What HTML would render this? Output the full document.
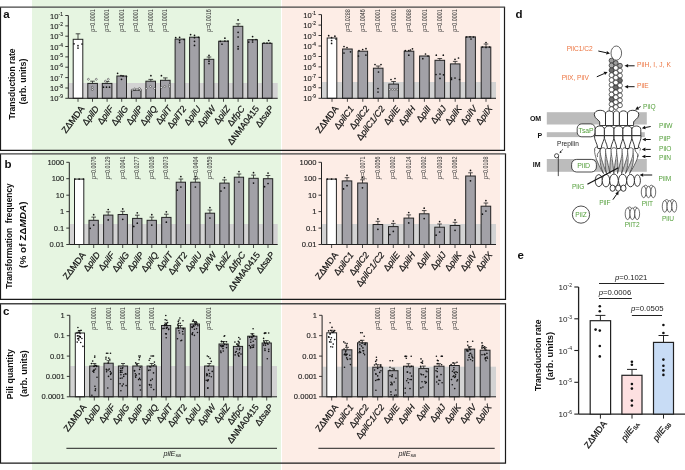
<!DOCTYPE html>
<html><head><meta charset="utf-8"><style>
html,body{margin:0;padding:0;background:#fff;}
svg{display:block;font-family:"Liberation Sans", sans-serif;will-change:transform;}
</style></head><body>
<svg width="685" height="470" viewBox="0 0 685 470">
<rect x="32" y="0" width="249" height="470" fill="#e6f5e1"/>
<rect x="282" y="0" width="218" height="470" fill="#fdede6"/>
<rect x="68.8" y="83" width="208.89999999999998" height="15.299999999999997" fill="#d3d3d3"/>
<rect x="322" y="82" width="174" height="16.299999999999997" fill="#d3d3d3"/>
<rect x="73.2" y="39.3" width="9.6" height="59.0" fill="white" stroke="#222" stroke-width="1"/>
<path d="M78.0 39.3V33.8M75.7 33.8H80.3" stroke="#222" stroke-width="0.8" fill="none"/>
<circle cx="74" cy="43.8" r="0.85" fill="#111"/>
<circle cx="78" cy="45.7" r="0.85" fill="#111"/>
<circle cx="78" cy="48.1" r="0.85" fill="#111"/>
<circle cx="82" cy="44" r="0.85" fill="#111"/>
<line x1="78.0" y1="98.3" x2="78.0" y2="101.8" stroke="#222" stroke-width="0.8"/>
<text x="85.0" y="108.7" text-anchor="end" transform="rotate(-53 85.0 108.7)" font-size="9.0" fill="#111" stroke="#111" stroke-width="0.2"><tspan>ZΔMDA</tspan></text>
<rect x="87.8" y="83.4" width="9.6" height="14.9" fill="#a2a1a7" stroke="#222" stroke-width="1"/>
<path d="M92.5 83.4V81.2M90.2 81.2H94.8" stroke="#222" stroke-width="0.8" fill="none"/>
<circle cx="88.4" cy="79.3" r="0.95" fill="white" stroke="#222" stroke-width="0.5"/>
<circle cx="96.3" cy="79.3" r="0.95" fill="white" stroke="#222" stroke-width="0.5"/>
<circle cx="92.3" cy="87.2" r="0.95" fill="white" stroke="#222" stroke-width="0.5"/>
<circle cx="92.3" cy="89.6" r="0.95" fill="white" stroke="#222" stroke-width="0.5"/>
<line x1="92.5" y1="98.3" x2="92.5" y2="101.8" stroke="#222" stroke-width="0.8"/>
<text x="99.5" y="108.7" text-anchor="end" transform="rotate(-53 99.5 108.7)" font-size="9.0" fill="#111" stroke="#111" stroke-width="0.2"><tspan>Δ</tspan><tspan font-style="italic">pilD</tspan></text>
<text x="94.8" y="31.8" transform="rotate(-90 94.8 31.8)" font-size="6.4" fill="#3a3a3a" textLength="22.6" lengthAdjust="spacingAndGlyphs"><tspan font-style="italic">p</tspan>=0.0001</text>
<rect x="102.3" y="83.4" width="9.6" height="14.9" fill="#a2a1a7" stroke="#222" stroke-width="1"/>
<path d="M107.1 83.4V81.5M104.8 81.5H109.4" stroke="#222" stroke-width="0.8" fill="none"/>
<circle cx="105.4" cy="81.2" r="0.95" fill="white" stroke="#222" stroke-width="0.5"/>
<circle cx="108.3" cy="79.3" r="0.95" fill="white" stroke="#222" stroke-width="0.5"/>
<circle cx="103.5" cy="87.2" r="0.85" fill="#111"/>
<circle cx="106.5" cy="87.2" r="0.85" fill="#111"/>
<circle cx="109.5" cy="87.2" r="0.85" fill="#111"/>
<line x1="107.1" y1="98.3" x2="107.1" y2="101.8" stroke="#222" stroke-width="0.8"/>
<text x="114.1" y="108.7" text-anchor="end" transform="rotate(-53 114.1 108.7)" font-size="9.0" fill="#111" stroke="#111" stroke-width="0.2"><tspan>Δ</tspan><tspan font-style="italic">pilF</tspan></text>
<text x="109.3" y="31.8" transform="rotate(-90 109.3 31.8)" font-size="6.4" fill="#3a3a3a" textLength="22.6" lengthAdjust="spacingAndGlyphs"><tspan font-style="italic">p</tspan>=0.0001</text>
<rect x="116.9" y="76.0" width="9.6" height="22.3" fill="#a2a1a7" stroke="#222" stroke-width="1"/>
<circle cx="117.6" cy="73.3" r="0.85" fill="#111"/>
<circle cx="121" cy="75.5" r="0.85" fill="#111"/>
<circle cx="123" cy="75.9" r="0.85" fill="#111"/>
<circle cx="126.5" cy="76.5" r="0.85" fill="#111"/>
<circle cx="121.5" cy="79.3" r="0.85" fill="#111"/>
<line x1="121.7" y1="98.3" x2="121.7" y2="101.8" stroke="#222" stroke-width="0.8"/>
<text x="128.7" y="108.7" text-anchor="end" transform="rotate(-53 128.7 108.7)" font-size="9.0" fill="#111" stroke="#111" stroke-width="0.2"><tspan>Δ</tspan><tspan font-style="italic">pilG</tspan></text>
<text x="123.9" y="31.8" transform="rotate(-90 123.9 31.8)" font-size="6.4" fill="#3a3a3a" textLength="22.6" lengthAdjust="spacingAndGlyphs"><tspan font-style="italic">p</tspan>=0.0001</text>
<rect x="131.4" y="90.2" width="9.6" height="8.1" fill="#a2a1a7" stroke="#222" stroke-width="1"/>
<circle cx="132.2" cy="90" r="0.95" fill="white" stroke="#222" stroke-width="0.5"/>
<circle cx="134.6" cy="89" r="0.95" fill="white" stroke="#222" stroke-width="0.5"/>
<circle cx="137" cy="89.5" r="0.95" fill="white" stroke="#222" stroke-width="0.5"/>
<circle cx="139.4" cy="88.5" r="0.95" fill="white" stroke="#222" stroke-width="0.5"/>
<circle cx="140.6" cy="90" r="0.95" fill="white" stroke="#222" stroke-width="0.5"/>
<line x1="136.2" y1="98.3" x2="136.2" y2="101.8" stroke="#222" stroke-width="0.8"/>
<text x="143.2" y="108.7" text-anchor="end" transform="rotate(-53 143.2 108.7)" font-size="9.0" fill="#111" stroke="#111" stroke-width="0.2"><tspan>Δ</tspan><tspan font-style="italic">pilP</tspan></text>
<text x="138.4" y="31.8" transform="rotate(-90 138.4 31.8)" font-size="6.4" fill="#3a3a3a" textLength="22.6" lengthAdjust="spacingAndGlyphs"><tspan font-style="italic">p</tspan>=0.0001</text>
<rect x="145.9" y="81.2" width="9.6" height="17.1" fill="#a2a1a7" stroke="#222" stroke-width="1"/>
<path d="M150.8 81.2V79.4M148.4 79.4H153.1" stroke="#222" stroke-width="0.8" fill="none"/>
<circle cx="150.9" cy="75.7" r="0.85" fill="#111"/>
<circle cx="146.3" cy="88.5" r="0.95" fill="white" stroke="#222" stroke-width="0.5"/>
<circle cx="154.6" cy="88.5" r="0.95" fill="white" stroke="#222" stroke-width="0.5"/>
<circle cx="150.5" cy="86.5" r="0.95" fill="white" stroke="#222" stroke-width="0.5"/>
<line x1="150.8" y1="98.3" x2="150.8" y2="101.8" stroke="#222" stroke-width="0.8"/>
<text x="157.8" y="108.7" text-anchor="end" transform="rotate(-53 157.8 108.7)" font-size="9.0" fill="#111" stroke="#111" stroke-width="0.2"><tspan>Δ</tspan><tspan font-style="italic">pilQ</tspan></text>
<text x="152.9" y="31.8" transform="rotate(-90 152.9 31.8)" font-size="6.4" fill="#3a3a3a" textLength="22.6" lengthAdjust="spacingAndGlyphs"><tspan font-style="italic">p</tspan>=0.0001</text>
<rect x="160.5" y="80.3" width="9.6" height="18.0" fill="#a2a1a7" stroke="#222" stroke-width="1"/>
<path d="M165.3 80.3V77.9M163.0 77.9H167.6" stroke="#222" stroke-width="0.8" fill="none"/>
<circle cx="161.4" cy="75.7" r="0.85" fill="#111"/>
<circle cx="161.4" cy="87.5" r="0.95" fill="white" stroke="#222" stroke-width="0.5"/>
<circle cx="169.5" cy="85" r="0.95" fill="white" stroke="#222" stroke-width="0.5"/>
<circle cx="169.5" cy="86.8" r="0.95" fill="white" stroke="#222" stroke-width="0.5"/>
<circle cx="164.8" cy="86.5" r="0.95" fill="white" stroke="#222" stroke-width="0.5"/>
<line x1="165.3" y1="98.3" x2="165.3" y2="101.8" stroke="#222" stroke-width="0.8"/>
<text x="172.3" y="108.7" text-anchor="end" transform="rotate(-53 172.3 108.7)" font-size="9.0" fill="#111" stroke="#111" stroke-width="0.2"><tspan>Δ</tspan><tspan font-style="italic">pilT</tspan></text>
<text x="167.5" y="31.8" transform="rotate(-90 167.5 31.8)" font-size="6.4" fill="#3a3a3a" textLength="22.6" lengthAdjust="spacingAndGlyphs"><tspan font-style="italic">p</tspan>=0.0001</text>
<rect x="175.1" y="39.1" width="9.6" height="59.2" fill="#a2a1a7" stroke="#222" stroke-width="1"/>
<circle cx="175.7" cy="37.7" r="0.85" fill="#111"/>
<circle cx="179.6" cy="37.3" r="0.85" fill="#111"/>
<circle cx="179.6" cy="40.6" r="0.85" fill="#111"/>
<circle cx="179.6" cy="42.5" r="0.85" fill="#111"/>
<circle cx="184" cy="39.5" r="0.85" fill="#111"/>
<line x1="179.9" y1="98.3" x2="179.9" y2="101.8" stroke="#222" stroke-width="0.8"/>
<text x="186.9" y="108.7" text-anchor="end" transform="rotate(-53 186.9 108.7)" font-size="9.0" fill="#111" stroke="#111" stroke-width="0.2"><tspan>Δ</tspan><tspan font-style="italic">pilT2</tspan></text>
<rect x="189.6" y="37.2" width="9.6" height="61.1" fill="#a2a1a7" stroke="#222" stroke-width="1"/>
<circle cx="190.6" cy="34.6" r="0.85" fill="#111"/>
<circle cx="194.5" cy="35.3" r="0.85" fill="#111"/>
<circle cx="194.5" cy="37.7" r="0.85" fill="#111"/>
<circle cx="194.5" cy="41.3" r="0.85" fill="#111"/>
<circle cx="194.5" cy="45.4" r="0.85" fill="#111"/>
<circle cx="198.5" cy="37.3" r="0.85" fill="#111"/>
<line x1="194.4" y1="98.3" x2="194.4" y2="101.8" stroke="#222" stroke-width="0.8"/>
<text x="201.4" y="108.7" text-anchor="end" transform="rotate(-53 201.4 108.7)" font-size="9.0" fill="#111" stroke="#111" stroke-width="0.2"><tspan>Δ</tspan><tspan font-style="italic">pilU</tspan></text>
<rect x="204.2" y="59.3" width="9.6" height="39.0" fill="#a2a1a7" stroke="#222" stroke-width="1"/>
<path d="M209.0 59.3V57.0M206.7 57.0H211.3" stroke="#222" stroke-width="0.8" fill="none"/>
<circle cx="209" cy="55.4" r="0.85" fill="#111"/>
<circle cx="209" cy="61.2" r="0.85" fill="#111"/>
<circle cx="209" cy="63.6" r="0.85" fill="#111"/>
<line x1="209.0" y1="98.3" x2="209.0" y2="101.8" stroke="#222" stroke-width="0.8"/>
<text x="216.0" y="108.7" text-anchor="end" transform="rotate(-53 216.0 108.7)" font-size="9.0" fill="#111" stroke="#111" stroke-width="0.2"><tspan>Δ</tspan><tspan font-style="italic">pilW</tspan></text>
<text x="211.2" y="31.8" transform="rotate(-90 211.2 31.8)" font-size="6.4" fill="#3a3a3a" textLength="22.6" lengthAdjust="spacingAndGlyphs"><tspan font-style="italic">p</tspan>=0.0016</text>
<rect x="218.7" y="41.2" width="9.6" height="57.1" fill="#a2a1a7" stroke="#222" stroke-width="1"/>
<circle cx="220.3" cy="41.3" r="0.85" fill="#111"/>
<circle cx="224.9" cy="38.2" r="0.85" fill="#111"/>
<circle cx="224.9" cy="41" r="0.85" fill="#111"/>
<circle cx="228" cy="41" r="0.85" fill="#111"/>
<circle cx="222" cy="44.2" r="0.85" fill="#111"/>
<line x1="223.5" y1="98.3" x2="223.5" y2="101.8" stroke="#222" stroke-width="0.8"/>
<text x="230.5" y="108.7" text-anchor="end" transform="rotate(-53 230.5 108.7)" font-size="9.0" fill="#111" stroke="#111" stroke-width="0.2"><tspan>Δ</tspan><tspan font-style="italic">pilZ</tspan></text>
<rect x="233.2" y="26.3" width="9.6" height="72.0" fill="#a2a1a7" stroke="#222" stroke-width="1"/>
<path d="M238.1 26.3V23.8M235.8 23.8H240.4" stroke="#222" stroke-width="0.8" fill="none"/>
<circle cx="238.1" cy="19.9" r="0.85" fill="#111"/>
<circle cx="238.1" cy="32.3" r="0.85" fill="#111"/>
<circle cx="238.1" cy="37" r="0.85" fill="#111"/>
<circle cx="238.1" cy="46.6" r="0.85" fill="#111"/>
<circle cx="238.1" cy="48.9" r="0.85" fill="#111"/>
<line x1="238.1" y1="98.3" x2="238.1" y2="101.8" stroke="#222" stroke-width="0.8"/>
<text x="245.1" y="108.7" text-anchor="end" transform="rotate(-53 245.1 108.7)" font-size="9.0" fill="#111" stroke="#111" stroke-width="0.2"><tspan>Δ</tspan><tspan font-style="italic">tfpC</tspan></text>
<rect x="247.8" y="39.7" width="9.6" height="58.6" fill="#a2a1a7" stroke="#222" stroke-width="1"/>
<circle cx="252.6" cy="36.6" r="0.85" fill="#111"/>
<circle cx="248.8" cy="42.1" r="0.85" fill="#111"/>
<circle cx="252.6" cy="42" r="0.85" fill="#111"/>
<circle cx="256" cy="39.5" r="0.85" fill="#111"/>
<circle cx="252.6" cy="40" r="0.85" fill="#111"/>
<line x1="252.6" y1="98.3" x2="252.6" y2="101.8" stroke="#222" stroke-width="0.8"/>
<text x="259.6" y="108.7" text-anchor="end" transform="rotate(-53 259.6 108.7)" font-size="9.0" fill="#111" stroke="#111" stroke-width="0.2"><tspan>Δ</tspan><tspan>NMA0415</tspan></text>
<rect x="262.4" y="43.3" width="9.6" height="55.0" fill="#a2a1a7" stroke="#222" stroke-width="1"/>
<circle cx="268.7" cy="40.5" r="0.85" fill="#111"/>
<circle cx="264" cy="43" r="0.85" fill="#111"/>
<circle cx="267" cy="43" r="0.85" fill="#111"/>
<circle cx="270" cy="43" r="0.85" fill="#111"/>
<line x1="267.2" y1="98.3" x2="267.2" y2="101.8" stroke="#222" stroke-width="0.8"/>
<text x="274.2" y="108.7" text-anchor="end" transform="rotate(-53 274.2 108.7)" font-size="9.0" fill="#111" stroke="#111" stroke-width="0.2"><tspan>Δ</tspan><tspan font-style="italic">tsaP</tspan></text>
<line x1="68.3" y1="98.3" x2="277.7" y2="98.3" stroke="#222" stroke-width="1"/>
<line x1="68.3" y1="15.5" x2="68.3" y2="98.3" stroke="#222" stroke-width="1"/>
<line x1="65.3" y1="15.5" x2="68.3" y2="15.5" stroke="#222" stroke-width="0.9"/>
<text x="62.9" y="18.6" text-anchor="end" font-size="7.6" fill="#1a1a1a" stroke="#1a1a1a" stroke-width="0.12">10<tspan font-size="4.9" dy="-3.0">-1</tspan></text>
<line x1="65.3" y1="25.9" x2="68.3" y2="25.9" stroke="#222" stroke-width="0.9"/>
<text x="62.9" y="29.0" text-anchor="end" font-size="7.6" fill="#1a1a1a" stroke="#1a1a1a" stroke-width="0.12">10<tspan font-size="4.9" dy="-3.0">-2</tspan></text>
<line x1="65.3" y1="36.2" x2="68.3" y2="36.2" stroke="#222" stroke-width="0.9"/>
<text x="62.9" y="39.3" text-anchor="end" font-size="7.6" fill="#1a1a1a" stroke="#1a1a1a" stroke-width="0.12">10<tspan font-size="4.9" dy="-3.0">-3</tspan></text>
<line x1="65.3" y1="46.5" x2="68.3" y2="46.5" stroke="#222" stroke-width="0.9"/>
<text x="62.9" y="49.6" text-anchor="end" font-size="7.6" fill="#1a1a1a" stroke="#1a1a1a" stroke-width="0.12">10<tspan font-size="4.9" dy="-3.0">-4</tspan></text>
<line x1="65.3" y1="56.9" x2="68.3" y2="56.9" stroke="#222" stroke-width="0.9"/>
<text x="62.9" y="60.0" text-anchor="end" font-size="7.6" fill="#1a1a1a" stroke="#1a1a1a" stroke-width="0.12">10<tspan font-size="4.9" dy="-3.0">-5</tspan></text>
<line x1="65.3" y1="67.2" x2="68.3" y2="67.2" stroke="#222" stroke-width="0.9"/>
<text x="62.9" y="70.3" text-anchor="end" font-size="7.6" fill="#1a1a1a" stroke="#1a1a1a" stroke-width="0.12">10<tspan font-size="4.9" dy="-3.0">-6</tspan></text>
<line x1="65.3" y1="77.6" x2="68.3" y2="77.6" stroke="#222" stroke-width="0.9"/>
<text x="62.9" y="80.7" text-anchor="end" font-size="7.6" fill="#1a1a1a" stroke="#1a1a1a" stroke-width="0.12">10<tspan font-size="4.9" dy="-3.0">-7</tspan></text>
<line x1="65.3" y1="88.0" x2="68.3" y2="88.0" stroke="#222" stroke-width="0.9"/>
<text x="62.9" y="91.0" text-anchor="end" font-size="7.6" fill="#1a1a1a" stroke="#1a1a1a" stroke-width="0.12">10<tspan font-size="4.9" dy="-3.0">-8</tspan></text>
<line x1="65.3" y1="98.3" x2="68.3" y2="98.3" stroke="#222" stroke-width="0.9"/>
<text x="62.9" y="101.4" text-anchor="end" font-size="7.6" fill="#1a1a1a" stroke="#1a1a1a" stroke-width="0.12">10<tspan font-size="4.9" dy="-3.0">-9</tspan></text>
<rect x="327.2" y="38.0" width="9.6" height="60.3" fill="white" stroke="#222" stroke-width="1"/>
<circle cx="328.7" cy="35.7" r="0.85" fill="#111"/>
<circle cx="331.6" cy="37.7" r="0.85" fill="#111"/>
<circle cx="331.6" cy="40.5" r="0.85" fill="#111"/>
<circle cx="331.6" cy="43.4" r="0.85" fill="#111"/>
<circle cx="334.9" cy="36.2" r="0.85" fill="#111"/>
<circle cx="336" cy="39" r="0.85" fill="#111"/>
<line x1="332.0" y1="98.3" x2="332.0" y2="101.8" stroke="#222" stroke-width="0.8"/>
<text x="339.0" y="108.7" text-anchor="end" transform="rotate(-53 339.0 108.7)" font-size="9.0" fill="#111" stroke="#111" stroke-width="0.2"><tspan>ZΔMDA</tspan></text>
<rect x="342.6" y="49.0" width="9.6" height="49.3" fill="#a2a1a7" stroke="#222" stroke-width="1"/>
<circle cx="344" cy="46.5" r="0.85" fill="#111"/>
<circle cx="347" cy="47.5" r="0.85" fill="#111"/>
<circle cx="344" cy="53" r="0.85" fill="#111"/>
<circle cx="350.5" cy="51.8" r="0.85" fill="#111"/>
<line x1="347.4" y1="98.3" x2="347.4" y2="101.8" stroke="#222" stroke-width="0.8"/>
<text x="354.4" y="108.7" text-anchor="end" transform="rotate(-53 354.4 108.7)" font-size="9.0" fill="#111" stroke="#111" stroke-width="0.2"><tspan>Δ</tspan><tspan font-style="italic">pilC1</tspan></text>
<text x="349.6" y="31.8" transform="rotate(-90 349.6 31.8)" font-size="6.4" fill="#3a3a3a" textLength="22.6" lengthAdjust="spacingAndGlyphs"><tspan font-style="italic">p</tspan>=0.0288</text>
<rect x="358.0" y="51.2" width="9.6" height="47.1" fill="#a2a1a7" stroke="#222" stroke-width="1"/>
<circle cx="359" cy="50.6" r="0.85" fill="#111"/>
<circle cx="362.7" cy="49.5" r="0.85" fill="#111"/>
<circle cx="366" cy="48.7" r="0.85" fill="#111"/>
<circle cx="358.5" cy="56" r="0.85" fill="#111"/>
<circle cx="365.9" cy="55.1" r="0.85" fill="#111"/>
<line x1="362.8" y1="98.3" x2="362.8" y2="101.8" stroke="#222" stroke-width="0.8"/>
<text x="369.8" y="108.7" text-anchor="end" transform="rotate(-53 369.8 108.7)" font-size="9.0" fill="#111" stroke="#111" stroke-width="0.2"><tspan>Δ</tspan><tspan font-style="italic">pilC2</tspan></text>
<text x="365.0" y="31.8" transform="rotate(-90 365.0 31.8)" font-size="6.4" fill="#3a3a3a" textLength="22.6" lengthAdjust="spacingAndGlyphs"><tspan font-style="italic">p</tspan>=0.0046</text>
<rect x="373.4" y="68.2" width="9.6" height="30.1" fill="#a2a1a7" stroke="#222" stroke-width="1"/>
<path d="M378.2 68.2V66.0M375.9 66.0H380.5" stroke="#222" stroke-width="0.8" fill="none"/>
<circle cx="375" cy="64.5" r="0.85" fill="#111"/>
<circle cx="381" cy="64.5" r="0.85" fill="#111"/>
<circle cx="378.5" cy="72" r="0.85" fill="#111"/>
<circle cx="378" cy="88.5" r="0.85" fill="#111"/>
<circle cx="378" cy="92" r="0.85" fill="#111"/>
<line x1="378.2" y1="98.3" x2="378.2" y2="101.8" stroke="#222" stroke-width="0.8"/>
<text x="385.2" y="108.7" text-anchor="end" transform="rotate(-53 385.2 108.7)" font-size="9.0" fill="#111" stroke="#111" stroke-width="0.2"><tspan>Δ</tspan><tspan font-style="italic">pilC1/C2</tspan></text>
<text x="380.4" y="31.8" transform="rotate(-90 380.4 31.8)" font-size="6.4" fill="#3a3a3a" textLength="22.6" lengthAdjust="spacingAndGlyphs"><tspan font-style="italic">p</tspan>=0.0001</text>
<rect x="388.8" y="84.1" width="9.6" height="14.2" fill="#a2a1a7" stroke="#222" stroke-width="1"/>
<path d="M393.6 84.1V81.5M391.3 81.5H395.9" stroke="#222" stroke-width="0.8" fill="none"/>
<circle cx="391" cy="79.5" r="0.85" fill="#111"/>
<circle cx="395" cy="78.5" r="0.85" fill="#111"/>
<circle cx="389.8" cy="89.5" r="0.95" fill="white" stroke="#222" stroke-width="0.5"/>
<circle cx="392.3" cy="89.3" r="0.95" fill="white" stroke="#222" stroke-width="0.5"/>
<circle cx="394.8" cy="89.5" r="0.95" fill="white" stroke="#222" stroke-width="0.5"/>
<circle cx="397.2" cy="89.3" r="0.95" fill="white" stroke="#222" stroke-width="0.5"/>
<line x1="393.6" y1="98.3" x2="393.6" y2="101.8" stroke="#222" stroke-width="0.8"/>
<text x="400.6" y="108.7" text-anchor="end" transform="rotate(-53 400.6 108.7)" font-size="9.0" fill="#111" stroke="#111" stroke-width="0.2"><tspan>Δ</tspan><tspan font-style="italic">pilE</tspan></text>
<text x="395.8" y="31.8" transform="rotate(-90 395.8 31.8)" font-size="6.4" fill="#3a3a3a" textLength="22.6" lengthAdjust="spacingAndGlyphs"><tspan font-style="italic">p</tspan>=0.0001</text>
<rect x="404.2" y="51.2" width="9.6" height="47.1" fill="#a2a1a7" stroke="#222" stroke-width="1"/>
<circle cx="405.3" cy="50.5" r="0.85" fill="#111"/>
<circle cx="408.8" cy="50.5" r="0.85" fill="#111"/>
<circle cx="408.8" cy="55.2" r="0.85" fill="#111"/>
<circle cx="412.5" cy="48.8" r="0.85" fill="#111"/>
<circle cx="410.5" cy="50" r="0.85" fill="#111"/>
<line x1="409.0" y1="98.3" x2="409.0" y2="101.8" stroke="#222" stroke-width="0.8"/>
<text x="416.0" y="108.7" text-anchor="end" transform="rotate(-53 416.0 108.7)" font-size="9.0" fill="#111" stroke="#111" stroke-width="0.2"><tspan>Δ</tspan><tspan font-style="italic">pilH</tspan></text>
<text x="411.2" y="31.8" transform="rotate(-90 411.2 31.8)" font-size="6.4" fill="#3a3a3a" textLength="22.6" lengthAdjust="spacingAndGlyphs"><tspan font-style="italic">p</tspan>=0.0088</text>
<rect x="419.6" y="56.0" width="9.6" height="42.3" fill="#a2a1a7" stroke="#222" stroke-width="1"/>
<circle cx="422.8" cy="58.7" r="0.85" fill="#111"/>
<circle cx="425.5" cy="54" r="0.85" fill="#111"/>
<circle cx="428" cy="56" r="0.85" fill="#111"/>
<line x1="424.4" y1="98.3" x2="424.4" y2="101.8" stroke="#222" stroke-width="0.8"/>
<text x="431.4" y="108.7" text-anchor="end" transform="rotate(-53 431.4 108.7)" font-size="9.0" fill="#111" stroke="#111" stroke-width="0.2"><tspan>Δ</tspan><tspan font-style="italic">pilI</tspan></text>
<text x="426.6" y="31.8" transform="rotate(-90 426.6 31.8)" font-size="6.4" fill="#3a3a3a" textLength="22.6" lengthAdjust="spacingAndGlyphs"><tspan font-style="italic">p</tspan>=0.0001</text>
<rect x="435.0" y="60.3" width="9.6" height="38.0" fill="#a2a1a7" stroke="#222" stroke-width="1"/>
<path d="M439.8 60.3V58.5M437.5 58.5H442.1" stroke="#222" stroke-width="0.8" fill="none"/>
<circle cx="436.3" cy="55.2" r="0.85" fill="#111"/>
<circle cx="443.3" cy="55.2" r="0.85" fill="#111"/>
<circle cx="436" cy="74.5" r="0.85" fill="#111"/>
<circle cx="440" cy="74" r="0.85" fill="#111"/>
<circle cx="443.5" cy="74.8" r="0.85" fill="#111"/>
<circle cx="440" cy="78.4" r="0.85" fill="#111"/>
<line x1="439.8" y1="98.3" x2="439.8" y2="101.8" stroke="#222" stroke-width="0.8"/>
<text x="446.8" y="108.7" text-anchor="end" transform="rotate(-53 446.8 108.7)" font-size="9.0" fill="#111" stroke="#111" stroke-width="0.2"><tspan>Δ</tspan><tspan font-style="italic">pilJ</tspan></text>
<text x="442.0" y="31.8" transform="rotate(-90 442.0 31.8)" font-size="6.4" fill="#3a3a3a" textLength="22.6" lengthAdjust="spacingAndGlyphs"><tspan font-style="italic">p</tspan>=0.0001</text>
<rect x="450.4" y="63.9" width="9.6" height="34.4" fill="#a2a1a7" stroke="#222" stroke-width="1"/>
<path d="M455.2 63.9V61.4M452.9 61.4H457.5" stroke="#222" stroke-width="0.8" fill="none"/>
<circle cx="455" cy="59.3" r="0.85" fill="#111"/>
<circle cx="458.5" cy="58" r="0.85" fill="#111"/>
<circle cx="451.5" cy="78" r="0.85" fill="#111"/>
<circle cx="451.5" cy="79.5" r="0.85" fill="#111"/>
<circle cx="455" cy="78" r="0.85" fill="#111"/>
<circle cx="459.5" cy="79.5" r="0.85" fill="#111"/>
<line x1="455.2" y1="98.3" x2="455.2" y2="101.8" stroke="#222" stroke-width="0.8"/>
<text x="462.2" y="108.7" text-anchor="end" transform="rotate(-53 462.2 108.7)" font-size="9.0" fill="#111" stroke="#111" stroke-width="0.2"><tspan>Δ</tspan><tspan font-style="italic">pilK</tspan></text>
<text x="457.4" y="31.8" transform="rotate(-90 457.4 31.8)" font-size="6.4" fill="#3a3a3a" textLength="22.6" lengthAdjust="spacingAndGlyphs"><tspan font-style="italic">p</tspan>=0.0001</text>
<rect x="465.8" y="36.9" width="9.6" height="61.4" fill="#a2a1a7" stroke="#222" stroke-width="1"/>
<circle cx="466.5" cy="37" r="0.85" fill="#111"/>
<circle cx="470" cy="36.8" r="0.85" fill="#111"/>
<circle cx="473.5" cy="37" r="0.85" fill="#111"/>
<circle cx="471" cy="39" r="0.85" fill="#111"/>
<line x1="470.6" y1="98.3" x2="470.6" y2="101.8" stroke="#222" stroke-width="0.8"/>
<text x="477.6" y="108.7" text-anchor="end" transform="rotate(-53 477.6 108.7)" font-size="9.0" fill="#111" stroke="#111" stroke-width="0.2"><tspan>Δ</tspan><tspan font-style="italic">pilV</tspan></text>
<rect x="481.2" y="47.0" width="9.6" height="51.3" fill="#a2a1a7" stroke="#222" stroke-width="1"/>
<path d="M486.0 47.0V44.0M483.7 44.0H488.3" stroke="#222" stroke-width="0.8" fill="none"/>
<circle cx="486" cy="42.5" r="0.85" fill="#111"/>
<circle cx="482.5" cy="47" r="0.85" fill="#111"/>
<circle cx="486" cy="47.5" r="0.85" fill="#111"/>
<circle cx="489.5" cy="47" r="0.85" fill="#111"/>
<line x1="486.0" y1="98.3" x2="486.0" y2="101.8" stroke="#222" stroke-width="0.8"/>
<text x="493.0" y="108.7" text-anchor="end" transform="rotate(-53 493.0 108.7)" font-size="9.0" fill="#111" stroke="#111" stroke-width="0.2"><tspan>Δ</tspan><tspan font-style="italic">pilX</tspan></text>
<line x1="321.5" y1="98.3" x2="496" y2="98.3" stroke="#222" stroke-width="1"/>
<line x1="321.5" y1="14.6" x2="321.5" y2="98.3" stroke="#222" stroke-width="1"/>
<line x1="318.5" y1="14.6" x2="321.5" y2="14.6" stroke="#222" stroke-width="0.9"/>
<text x="316.1" y="17.7" text-anchor="end" font-size="7.6" fill="#1a1a1a" stroke="#1a1a1a" stroke-width="0.12">10<tspan font-size="4.9" dy="-3.0">-1</tspan></text>
<line x1="318.5" y1="25.1" x2="321.5" y2="25.1" stroke="#222" stroke-width="0.9"/>
<text x="316.1" y="28.2" text-anchor="end" font-size="7.6" fill="#1a1a1a" stroke="#1a1a1a" stroke-width="0.12">10<tspan font-size="4.9" dy="-3.0">-2</tspan></text>
<line x1="318.5" y1="35.5" x2="321.5" y2="35.5" stroke="#222" stroke-width="0.9"/>
<text x="316.1" y="38.6" text-anchor="end" font-size="7.6" fill="#1a1a1a" stroke="#1a1a1a" stroke-width="0.12">10<tspan font-size="4.9" dy="-3.0">-3</tspan></text>
<line x1="318.5" y1="46.0" x2="321.5" y2="46.0" stroke="#222" stroke-width="0.9"/>
<text x="316.1" y="49.1" text-anchor="end" font-size="7.6" fill="#1a1a1a" stroke="#1a1a1a" stroke-width="0.12">10<tspan font-size="4.9" dy="-3.0">-4</tspan></text>
<line x1="318.5" y1="56.5" x2="321.5" y2="56.5" stroke="#222" stroke-width="0.9"/>
<text x="316.1" y="59.6" text-anchor="end" font-size="7.6" fill="#1a1a1a" stroke="#1a1a1a" stroke-width="0.12">10<tspan font-size="4.9" dy="-3.0">-5</tspan></text>
<line x1="318.5" y1="66.9" x2="321.5" y2="66.9" stroke="#222" stroke-width="0.9"/>
<text x="316.1" y="70.0" text-anchor="end" font-size="7.6" fill="#1a1a1a" stroke="#1a1a1a" stroke-width="0.12">10<tspan font-size="4.9" dy="-3.0">-6</tspan></text>
<line x1="318.5" y1="77.4" x2="321.5" y2="77.4" stroke="#222" stroke-width="0.9"/>
<text x="316.1" y="80.5" text-anchor="end" font-size="7.6" fill="#1a1a1a" stroke="#1a1a1a" stroke-width="0.12">10<tspan font-size="4.9" dy="-3.0">-7</tspan></text>
<line x1="318.5" y1="87.8" x2="321.5" y2="87.8" stroke="#222" stroke-width="0.9"/>
<text x="316.1" y="90.9" text-anchor="end" font-size="7.6" fill="#1a1a1a" stroke="#1a1a1a" stroke-width="0.12">10<tspan font-size="4.9" dy="-3.0">-8</tspan></text>
<line x1="318.5" y1="98.3" x2="321.5" y2="98.3" stroke="#222" stroke-width="0.9"/>
<text x="316.1" y="101.4" text-anchor="end" font-size="7.6" fill="#1a1a1a" stroke="#1a1a1a" stroke-width="0.12">10<tspan font-size="4.9" dy="-3.0">-9</tspan></text>
<rect x="69.8" y="224" width="207.89999999999998" height="20.5" fill="#d3d3d3"/>
<rect x="322" y="224" width="174" height="20.5" fill="#d3d3d3"/>
<rect x="74.5" y="179.1" width="9.3" height="65.4" fill="white" stroke="#222" stroke-width="1"/>
<circle cx="74.85000000000001" cy="179.1" r="0.85" fill="#111"/>
<circle cx="79.15" cy="179.1" r="0.85" fill="#111"/>
<circle cx="83.45" cy="179.1" r="0.85" fill="#111"/>
<line x1="79.2" y1="244.5" x2="79.2" y2="248.0" stroke="#222" stroke-width="0.8"/>
<text x="86.2" y="254.9" text-anchor="end" transform="rotate(-53 86.2 254.9)" font-size="9.0" fill="#111" stroke="#111" stroke-width="0.2"><tspan>ZΔMDA</tspan></text>
<rect x="89.0" y="220.3" width="9.3" height="24.2" fill="#a2a1a7" stroke="#222" stroke-width="1"/>
<path d="M93.7 220.3V217.1M91.4 217.1H96.0" stroke="#222" stroke-width="0.8" fill="none"/>
<circle cx="93.68" cy="214.70000000000002" r="0.85" fill="#111"/>
<circle cx="93.68" cy="225.10000000000002" r="0.85" fill="#111"/>
<circle cx="90.18" cy="228.3" r="0.85" fill="#111"/>
<line x1="93.7" y1="244.5" x2="93.7" y2="248.0" stroke="#222" stroke-width="0.8"/>
<text x="100.7" y="254.9" text-anchor="end" transform="rotate(-53 100.7 254.9)" font-size="9.0" fill="#111" stroke="#111" stroke-width="0.2"><tspan>Δ</tspan><tspan font-style="italic">pilD</tspan></text>
<text x="95.9" y="179.1" transform="rotate(-90 95.9 179.1)" font-size="6.4" fill="#3a3a3a" textLength="22.6" lengthAdjust="spacingAndGlyphs"><tspan font-style="italic">p</tspan>=0.0076</text>
<rect x="103.6" y="215.1" width="9.3" height="29.4" fill="#a2a1a7" stroke="#222" stroke-width="1"/>
<path d="M108.2 215.1V211.9M105.9 211.9H110.5" stroke="#222" stroke-width="0.8" fill="none"/>
<circle cx="108.21000000000001" cy="209.5" r="0.85" fill="#111"/>
<circle cx="108.21000000000001" cy="219.9" r="0.85" fill="#111"/>
<line x1="108.2" y1="244.5" x2="108.2" y2="248.0" stroke="#222" stroke-width="0.8"/>
<text x="115.2" y="254.9" text-anchor="end" transform="rotate(-53 115.2 254.9)" font-size="9.0" fill="#111" stroke="#111" stroke-width="0.2"><tspan>Δ</tspan><tspan font-style="italic">pilF</tspan></text>
<text x="110.4" y="179.1" transform="rotate(-90 110.4 179.1)" font-size="6.4" fill="#3a3a3a" textLength="22.6" lengthAdjust="spacingAndGlyphs"><tspan font-style="italic">p</tspan>=0.0129</text>
<rect x="118.1" y="214.5" width="9.3" height="30.0" fill="#a2a1a7" stroke="#222" stroke-width="1"/>
<path d="M122.7 214.5V211.3M120.4 211.3H125.0" stroke="#222" stroke-width="0.8" fill="none"/>
<circle cx="122.74000000000001" cy="208.9" r="0.85" fill="#111"/>
<circle cx="122.74000000000001" cy="219.3" r="0.85" fill="#111"/>
<line x1="122.7" y1="244.5" x2="122.7" y2="248.0" stroke="#222" stroke-width="0.8"/>
<text x="129.7" y="254.9" text-anchor="end" transform="rotate(-53 129.7 254.9)" font-size="9.0" fill="#111" stroke="#111" stroke-width="0.2"><tspan>Δ</tspan><tspan font-style="italic">pilG</tspan></text>
<text x="124.9" y="179.1" transform="rotate(-90 124.9 179.1)" font-size="6.4" fill="#3a3a3a" textLength="22.6" lengthAdjust="spacingAndGlyphs"><tspan font-style="italic">p</tspan>=0.0041</text>
<rect x="132.6" y="218.4" width="9.3" height="26.1" fill="#a2a1a7" stroke="#222" stroke-width="1"/>
<path d="M137.3 218.4V215.2M135.0 215.2H139.6" stroke="#222" stroke-width="0.8" fill="none"/>
<circle cx="137.27" cy="212.8" r="0.85" fill="#111"/>
<circle cx="137.27" cy="223.20000000000002" r="0.85" fill="#111"/>
<circle cx="133.77" cy="226.4" r="0.85" fill="#111"/>
<line x1="137.3" y1="244.5" x2="137.3" y2="248.0" stroke="#222" stroke-width="0.8"/>
<text x="144.3" y="254.9" text-anchor="end" transform="rotate(-53 144.3 254.9)" font-size="9.0" fill="#111" stroke="#111" stroke-width="0.2"><tspan>Δ</tspan><tspan font-style="italic">pilP</tspan></text>
<text x="139.5" y="179.1" transform="rotate(-90 139.5 179.1)" font-size="6.4" fill="#3a3a3a" textLength="22.6" lengthAdjust="spacingAndGlyphs"><tspan font-style="italic">p</tspan>=0.0277</text>
<rect x="147.1" y="220.3" width="9.3" height="24.2" fill="#a2a1a7" stroke="#222" stroke-width="1"/>
<path d="M151.8 220.3V217.1M149.5 217.1H154.1" stroke="#222" stroke-width="0.8" fill="none"/>
<circle cx="151.79999999999998" cy="214.70000000000002" r="0.85" fill="#111"/>
<circle cx="151.79999999999998" cy="225.10000000000002" r="0.85" fill="#111"/>
<line x1="151.8" y1="244.5" x2="151.8" y2="248.0" stroke="#222" stroke-width="0.8"/>
<text x="158.8" y="254.9" text-anchor="end" transform="rotate(-53 158.8 254.9)" font-size="9.0" fill="#111" stroke="#111" stroke-width="0.2"><tspan>Δ</tspan><tspan font-style="italic">pilQ</tspan></text>
<text x="154.0" y="179.1" transform="rotate(-90 154.0 179.1)" font-size="6.4" fill="#3a3a3a" textLength="22.6" lengthAdjust="spacingAndGlyphs"><tspan font-style="italic">p</tspan>=0.0026</text>
<rect x="161.7" y="217.4" width="9.3" height="27.1" fill="#a2a1a7" stroke="#222" stroke-width="1"/>
<path d="M166.3 217.4V214.2M164.0 214.2H168.6" stroke="#222" stroke-width="0.8" fill="none"/>
<circle cx="166.33" cy="211.8" r="0.85" fill="#111"/>
<circle cx="166.33" cy="222.20000000000002" r="0.85" fill="#111"/>
<line x1="166.3" y1="244.5" x2="166.3" y2="248.0" stroke="#222" stroke-width="0.8"/>
<text x="173.3" y="254.9" text-anchor="end" transform="rotate(-53 173.3 254.9)" font-size="9.0" fill="#111" stroke="#111" stroke-width="0.2"><tspan>Δ</tspan><tspan font-style="italic">pilT</tspan></text>
<text x="168.5" y="179.1" transform="rotate(-90 168.5 179.1)" font-size="6.4" fill="#3a3a3a" textLength="22.6" lengthAdjust="spacingAndGlyphs"><tspan font-style="italic">p</tspan>=0.0073</text>
<rect x="176.2" y="182.2" width="9.3" height="62.3" fill="#a2a1a7" stroke="#222" stroke-width="1"/>
<path d="M180.9 182.2V179.0M178.6 179.0H183.2" stroke="#222" stroke-width="0.8" fill="none"/>
<circle cx="180.85999999999999" cy="176.6" r="0.85" fill="#111"/>
<circle cx="180.85999999999999" cy="187.0" r="0.85" fill="#111"/>
<circle cx="177.35999999999999" cy="190.2" r="0.85" fill="#111"/>
<line x1="180.9" y1="244.5" x2="180.9" y2="248.0" stroke="#222" stroke-width="0.8"/>
<text x="187.9" y="254.9" text-anchor="end" transform="rotate(-53 187.9 254.9)" font-size="9.0" fill="#111" stroke="#111" stroke-width="0.2"><tspan>Δ</tspan><tspan font-style="italic">pilT2</tspan></text>
<rect x="190.7" y="182.2" width="9.3" height="62.3" fill="#a2a1a7" stroke="#222" stroke-width="1"/>
<path d="M195.4 182.2V179.0M193.1 179.0H197.7" stroke="#222" stroke-width="0.8" fill="none"/>
<circle cx="195.39000000000001" cy="176.6" r="0.85" fill="#111"/>
<circle cx="195.39000000000001" cy="187.0" r="0.85" fill="#111"/>
<line x1="195.4" y1="244.5" x2="195.4" y2="248.0" stroke="#222" stroke-width="0.8"/>
<text x="202.4" y="254.9" text-anchor="end" transform="rotate(-53 202.4 254.9)" font-size="9.0" fill="#111" stroke="#111" stroke-width="0.2"><tspan>Δ</tspan><tspan font-style="italic">pilU</tspan></text>
<text x="197.6" y="179.1" transform="rotate(-90 197.6 179.1)" font-size="6.4" fill="#3a3a3a" textLength="22.6" lengthAdjust="spacingAndGlyphs"><tspan font-style="italic">p</tspan>=0.0404</text>
<rect x="205.3" y="213.2" width="9.3" height="31.3" fill="#a2a1a7" stroke="#222" stroke-width="1"/>
<path d="M209.9 213.2V210.0M207.6 210.0H212.2" stroke="#222" stroke-width="0.8" fill="none"/>
<circle cx="209.92" cy="207.6" r="0.85" fill="#111"/>
<circle cx="209.92" cy="218.0" r="0.85" fill="#111"/>
<line x1="209.9" y1="244.5" x2="209.9" y2="248.0" stroke="#222" stroke-width="0.8"/>
<text x="216.9" y="254.9" text-anchor="end" transform="rotate(-53 216.9 254.9)" font-size="9.0" fill="#111" stroke="#111" stroke-width="0.2"><tspan>Δ</tspan><tspan font-style="italic">pilW</tspan></text>
<text x="212.1" y="179.1" transform="rotate(-90 212.1 179.1)" font-size="6.4" fill="#3a3a3a" textLength="22.6" lengthAdjust="spacingAndGlyphs"><tspan font-style="italic">p</tspan>=0.0559</text>
<rect x="219.8" y="183.1" width="9.3" height="61.4" fill="#a2a1a7" stroke="#222" stroke-width="1"/>
<path d="M224.4 183.1V179.9M222.1 179.9H226.8" stroke="#222" stroke-width="0.8" fill="none"/>
<circle cx="224.45" cy="177.5" r="0.85" fill="#111"/>
<circle cx="224.45" cy="187.9" r="0.85" fill="#111"/>
<circle cx="220.95" cy="191.1" r="0.85" fill="#111"/>
<line x1="224.4" y1="244.5" x2="224.4" y2="248.0" stroke="#222" stroke-width="0.8"/>
<text x="231.4" y="254.9" text-anchor="end" transform="rotate(-53 231.4 254.9)" font-size="9.0" fill="#111" stroke="#111" stroke-width="0.2"><tspan>Δ</tspan><tspan font-style="italic">pilZ</tspan></text>
<rect x="234.3" y="177.2" width="9.3" height="67.3" fill="#a2a1a7" stroke="#222" stroke-width="1"/>
<path d="M239.0 177.2V174.0M236.7 174.0H241.3" stroke="#222" stroke-width="0.8" fill="none"/>
<circle cx="238.98" cy="171.6" r="0.85" fill="#111"/>
<circle cx="238.98" cy="182.0" r="0.85" fill="#111"/>
<line x1="239.0" y1="244.5" x2="239.0" y2="248.0" stroke="#222" stroke-width="0.8"/>
<text x="246.0" y="254.9" text-anchor="end" transform="rotate(-53 246.0 254.9)" font-size="9.0" fill="#111" stroke="#111" stroke-width="0.2"><tspan>Δ</tspan><tspan font-style="italic">tfpC</tspan></text>
<rect x="248.9" y="178.3" width="9.3" height="66.2" fill="#a2a1a7" stroke="#222" stroke-width="1"/>
<path d="M253.5 178.3V175.1M251.2 175.1H255.8" stroke="#222" stroke-width="0.8" fill="none"/>
<circle cx="253.51" cy="172.70000000000002" r="0.85" fill="#111"/>
<circle cx="253.51" cy="183.10000000000002" r="0.85" fill="#111"/>
<line x1="253.5" y1="244.5" x2="253.5" y2="248.0" stroke="#222" stroke-width="0.8"/>
<text x="260.5" y="254.9" text-anchor="end" transform="rotate(-53 260.5 254.9)" font-size="9.0" fill="#111" stroke="#111" stroke-width="0.2"><tspan>Δ</tspan><tspan>NMA0415</tspan></text>
<rect x="263.4" y="178.7" width="9.3" height="65.8" fill="#a2a1a7" stroke="#222" stroke-width="1"/>
<path d="M268.0 178.7V175.5M265.7 175.5H270.3" stroke="#222" stroke-width="0.8" fill="none"/>
<circle cx="268.03999999999996" cy="173.1" r="0.85" fill="#111"/>
<circle cx="268.03999999999996" cy="183.5" r="0.85" fill="#111"/>
<circle cx="264.53999999999996" cy="186.7" r="0.85" fill="#111"/>
<line x1="268.0" y1="244.5" x2="268.0" y2="248.0" stroke="#222" stroke-width="0.8"/>
<text x="275.0" y="254.9" text-anchor="end" transform="rotate(-53 275.0 254.9)" font-size="9.0" fill="#111" stroke="#111" stroke-width="0.2"><tspan>Δ</tspan><tspan font-style="italic">tsaP</tspan></text>
<line x1="69.3" y1="244.5" x2="277.7" y2="244.5" stroke="#222" stroke-width="1"/>
<line x1="69.3" y1="162.3" x2="69.3" y2="244.5" stroke="#222" stroke-width="1"/>
<line x1="66.3" y1="162.3" x2="69.3" y2="162.3" stroke="#222" stroke-width="0.9"/>
<text x="64.3" y="164.9" text-anchor="end" font-size="7.6" fill="#1a1a1a" stroke="#1a1a1a" stroke-width="0.12">1000</text>
<line x1="66.3" y1="178.7" x2="69.3" y2="178.7" stroke="#222" stroke-width="0.9"/>
<text x="64.3" y="181.3" text-anchor="end" font-size="7.6" fill="#1a1a1a" stroke="#1a1a1a" stroke-width="0.12">100</text>
<line x1="66.3" y1="195.2" x2="69.3" y2="195.2" stroke="#222" stroke-width="0.9"/>
<text x="64.3" y="197.8" text-anchor="end" font-size="7.6" fill="#1a1a1a" stroke="#1a1a1a" stroke-width="0.12">10</text>
<line x1="66.3" y1="211.6" x2="69.3" y2="211.6" stroke="#222" stroke-width="0.9"/>
<text x="64.3" y="214.2" text-anchor="end" font-size="7.6" fill="#1a1a1a" stroke="#1a1a1a" stroke-width="0.12">1</text>
<line x1="66.3" y1="228.1" x2="69.3" y2="228.1" stroke="#222" stroke-width="0.9"/>
<text x="64.3" y="230.7" text-anchor="end" font-size="7.6" fill="#1a1a1a" stroke="#1a1a1a" stroke-width="0.12">0.1</text>
<line x1="66.3" y1="244.5" x2="69.3" y2="244.5" stroke="#222" stroke-width="0.9"/>
<text x="64.3" y="247.1" text-anchor="end" font-size="7.6" fill="#1a1a1a" stroke="#1a1a1a" stroke-width="0.12">0.01</text>
<rect x="326.8" y="179.1" width="9.6" height="65.4" fill="white" stroke="#222" stroke-width="1"/>
<circle cx="327.3" cy="179.1" r="0.85" fill="#111"/>
<circle cx="331.6" cy="179.1" r="0.85" fill="#111"/>
<circle cx="335.90000000000003" cy="179.1" r="0.85" fill="#111"/>
<line x1="331.6" y1="244.5" x2="331.6" y2="248.0" stroke="#222" stroke-width="0.8"/>
<text x="338.6" y="254.9" text-anchor="end" transform="rotate(-53 338.6 254.9)" font-size="9.0" fill="#111" stroke="#111" stroke-width="0.2"><tspan>ZΔMDA</tspan></text>
<rect x="342.2" y="180.9" width="9.6" height="63.6" fill="#a2a1a7" stroke="#222" stroke-width="1"/>
<path d="M347.0 180.9V177.7M344.7 177.7H349.3" stroke="#222" stroke-width="0.8" fill="none"/>
<circle cx="347.03000000000003" cy="175.3" r="0.85" fill="#111"/>
<circle cx="347.03000000000003" cy="185.70000000000002" r="0.85" fill="#111"/>
<circle cx="343.53000000000003" cy="188.9" r="0.85" fill="#111"/>
<line x1="347.0" y1="244.5" x2="347.0" y2="248.0" stroke="#222" stroke-width="0.8"/>
<text x="354.0" y="254.9" text-anchor="end" transform="rotate(-53 354.0 254.9)" font-size="9.0" fill="#111" stroke="#111" stroke-width="0.2"><tspan>Δ</tspan><tspan font-style="italic">pilC1</tspan></text>
<rect x="357.7" y="183.0" width="9.6" height="61.5" fill="#a2a1a7" stroke="#222" stroke-width="1"/>
<path d="M362.5 183.0V179.8M360.2 179.8H364.8" stroke="#222" stroke-width="0.8" fill="none"/>
<circle cx="362.46000000000004" cy="177.4" r="0.85" fill="#111"/>
<circle cx="362.46000000000004" cy="187.8" r="0.85" fill="#111"/>
<line x1="362.5" y1="244.5" x2="362.5" y2="248.0" stroke="#222" stroke-width="0.8"/>
<text x="369.5" y="254.9" text-anchor="end" transform="rotate(-53 369.5 254.9)" font-size="9.0" fill="#111" stroke="#111" stroke-width="0.2"><tspan>Δ</tspan><tspan font-style="italic">pilC2</tspan></text>
<text x="364.7" y="179.1" transform="rotate(-90 364.7 179.1)" font-size="6.4" fill="#3a3a3a" textLength="22.6" lengthAdjust="spacingAndGlyphs"><tspan font-style="italic">p</tspan>=0.0071</text>
<rect x="373.1" y="224.5" width="9.6" height="20.0" fill="#a2a1a7" stroke="#222" stroke-width="1"/>
<path d="M377.9 224.5V221.3M375.6 221.3H380.2" stroke="#222" stroke-width="0.8" fill="none"/>
<circle cx="377.89000000000004" cy="218.9" r="0.85" fill="#111"/>
<circle cx="377.89000000000004" cy="229.3" r="0.85" fill="#111"/>
<line x1="377.9" y1="244.5" x2="377.9" y2="248.0" stroke="#222" stroke-width="0.8"/>
<text x="384.9" y="254.9" text-anchor="end" transform="rotate(-53 384.9 254.9)" font-size="9.0" fill="#111" stroke="#111" stroke-width="0.2"><tspan>Δ</tspan><tspan font-style="italic">pilC1/C2</tspan></text>
<text x="380.1" y="179.1" transform="rotate(-90 380.1 179.1)" font-size="6.4" fill="#3a3a3a" textLength="22.6" lengthAdjust="spacingAndGlyphs"><tspan font-style="italic">p</tspan>=0.0056</text>
<rect x="388.5" y="226.6" width="9.6" height="17.9" fill="#a2a1a7" stroke="#222" stroke-width="1"/>
<path d="M393.3 226.6V223.4M391.0 223.4H395.6" stroke="#222" stroke-width="0.8" fill="none"/>
<circle cx="393.32" cy="221.0" r="0.85" fill="#111"/>
<circle cx="393.32" cy="231.4" r="0.85" fill="#111"/>
<circle cx="389.82" cy="234.6" r="0.85" fill="#111"/>
<line x1="393.3" y1="244.5" x2="393.3" y2="248.0" stroke="#222" stroke-width="0.8"/>
<text x="400.3" y="254.9" text-anchor="end" transform="rotate(-53 400.3 254.9)" font-size="9.0" fill="#111" stroke="#111" stroke-width="0.2"><tspan>Δ</tspan><tspan font-style="italic">pilE</tspan></text>
<text x="395.5" y="179.1" transform="rotate(-90 395.5 179.1)" font-size="6.4" fill="#3a3a3a" textLength="22.6" lengthAdjust="spacingAndGlyphs"><tspan font-style="italic">p</tspan>=0.0002</text>
<rect x="404.0" y="218.1" width="9.6" height="26.4" fill="#a2a1a7" stroke="#222" stroke-width="1"/>
<path d="M408.8 218.1V214.9M406.5 214.9H411.1" stroke="#222" stroke-width="0.8" fill="none"/>
<circle cx="408.75000000000006" cy="212.5" r="0.85" fill="#111"/>
<circle cx="408.75000000000006" cy="222.9" r="0.85" fill="#111"/>
<line x1="408.8" y1="244.5" x2="408.8" y2="248.0" stroke="#222" stroke-width="0.8"/>
<text x="415.8" y="254.9" text-anchor="end" transform="rotate(-53 415.8 254.9)" font-size="9.0" fill="#111" stroke="#111" stroke-width="0.2"><tspan>Δ</tspan><tspan font-style="italic">pilH</tspan></text>
<text x="411.0" y="179.1" transform="rotate(-90 411.0 179.1)" font-size="6.4" fill="#3a3a3a" textLength="22.6" lengthAdjust="spacingAndGlyphs"><tspan font-style="italic">p</tspan>=0.0124</text>
<rect x="419.4" y="213.8" width="9.6" height="30.7" fill="#a2a1a7" stroke="#222" stroke-width="1"/>
<path d="M424.2 213.8V210.6M421.9 210.6H426.5" stroke="#222" stroke-width="0.8" fill="none"/>
<circle cx="424.18" cy="208.20000000000002" r="0.85" fill="#111"/>
<circle cx="424.18" cy="218.60000000000002" r="0.85" fill="#111"/>
<line x1="424.2" y1="244.5" x2="424.2" y2="248.0" stroke="#222" stroke-width="0.8"/>
<text x="431.2" y="254.9" text-anchor="end" transform="rotate(-53 431.2 254.9)" font-size="9.0" fill="#111" stroke="#111" stroke-width="0.2"><tspan>Δ</tspan><tspan font-style="italic">pilI</tspan></text>
<text x="426.4" y="179.1" transform="rotate(-90 426.4 179.1)" font-size="6.4" fill="#3a3a3a" textLength="22.6" lengthAdjust="spacingAndGlyphs"><tspan font-style="italic">p</tspan>=0.0002</text>
<rect x="434.8" y="227.2" width="9.6" height="17.3" fill="#a2a1a7" stroke="#222" stroke-width="1"/>
<path d="M439.6 227.2V224.0M437.3 224.0H441.9" stroke="#222" stroke-width="0.8" fill="none"/>
<circle cx="439.61" cy="221.6" r="0.85" fill="#111"/>
<circle cx="439.61" cy="232.0" r="0.85" fill="#111"/>
<circle cx="436.11" cy="235.2" r="0.85" fill="#111"/>
<line x1="439.6" y1="244.5" x2="439.6" y2="248.0" stroke="#222" stroke-width="0.8"/>
<text x="446.6" y="254.9" text-anchor="end" transform="rotate(-53 446.6 254.9)" font-size="9.0" fill="#111" stroke="#111" stroke-width="0.2"><tspan>Δ</tspan><tspan font-style="italic">pilJ</tspan></text>
<text x="441.8" y="179.1" transform="rotate(-90 441.8 179.1)" font-size="6.4" fill="#3a3a3a" textLength="22.6" lengthAdjust="spacingAndGlyphs"><tspan font-style="italic">p</tspan>=0.0033</text>
<rect x="450.2" y="225.5" width="9.6" height="19.0" fill="#a2a1a7" stroke="#222" stroke-width="1"/>
<path d="M455.0 225.5V222.3M452.7 222.3H457.3" stroke="#222" stroke-width="0.8" fill="none"/>
<circle cx="455.04" cy="219.9" r="0.85" fill="#111"/>
<circle cx="455.04" cy="230.3" r="0.85" fill="#111"/>
<line x1="455.0" y1="244.5" x2="455.0" y2="248.0" stroke="#222" stroke-width="0.8"/>
<text x="462.0" y="254.9" text-anchor="end" transform="rotate(-53 462.0 254.9)" font-size="9.0" fill="#111" stroke="#111" stroke-width="0.2"><tspan>Δ</tspan><tspan font-style="italic">pilK</tspan></text>
<text x="457.2" y="179.1" transform="rotate(-90 457.2 179.1)" font-size="6.4" fill="#3a3a3a" textLength="22.6" lengthAdjust="spacingAndGlyphs"><tspan font-style="italic">p</tspan>=0.0062</text>
<rect x="465.7" y="176.0" width="9.6" height="68.5" fill="#a2a1a7" stroke="#222" stroke-width="1"/>
<path d="M470.5 176.0V172.8M468.2 172.8H472.8" stroke="#222" stroke-width="0.8" fill="none"/>
<circle cx="470.47" cy="170.4" r="0.85" fill="#111"/>
<circle cx="470.47" cy="180.8" r="0.85" fill="#111"/>
<line x1="470.5" y1="244.5" x2="470.5" y2="248.0" stroke="#222" stroke-width="0.8"/>
<text x="477.5" y="254.9" text-anchor="end" transform="rotate(-53 477.5 254.9)" font-size="9.0" fill="#111" stroke="#111" stroke-width="0.2"><tspan>Δ</tspan><tspan font-style="italic">pilV</tspan></text>
<rect x="481.1" y="206.2" width="9.6" height="38.3" fill="#a2a1a7" stroke="#222" stroke-width="1"/>
<path d="M485.9 206.2V203.0M483.6 203.0H488.2" stroke="#222" stroke-width="0.8" fill="none"/>
<circle cx="485.90000000000003" cy="200.6" r="0.85" fill="#111"/>
<circle cx="485.90000000000003" cy="211.0" r="0.85" fill="#111"/>
<circle cx="482.40000000000003" cy="214.2" r="0.85" fill="#111"/>
<line x1="485.9" y1="244.5" x2="485.9" y2="248.0" stroke="#222" stroke-width="0.8"/>
<text x="492.9" y="254.9" text-anchor="end" transform="rotate(-53 492.9 254.9)" font-size="9.0" fill="#111" stroke="#111" stroke-width="0.2"><tspan>Δ</tspan><tspan font-style="italic">pilX</tspan></text>
<text x="488.1" y="179.1" transform="rotate(-90 488.1 179.1)" font-size="6.4" fill="#3a3a3a" textLength="22.6" lengthAdjust="spacingAndGlyphs"><tspan font-style="italic">p</tspan>=0.0108</text>
<line x1="321.5" y1="244.5" x2="496" y2="244.5" stroke="#222" stroke-width="1"/>
<line x1="321.5" y1="162.3" x2="321.5" y2="244.5" stroke="#222" stroke-width="1"/>
<line x1="318.5" y1="162.3" x2="321.5" y2="162.3" stroke="#222" stroke-width="0.9"/>
<text x="316.5" y="164.9" text-anchor="end" font-size="7.6" fill="#1a1a1a" stroke="#1a1a1a" stroke-width="0.12">1000</text>
<line x1="318.5" y1="178.7" x2="321.5" y2="178.7" stroke="#222" stroke-width="0.9"/>
<text x="316.5" y="181.3" text-anchor="end" font-size="7.6" fill="#1a1a1a" stroke="#1a1a1a" stroke-width="0.12">100</text>
<line x1="318.5" y1="195.2" x2="321.5" y2="195.2" stroke="#222" stroke-width="0.9"/>
<text x="316.5" y="197.8" text-anchor="end" font-size="7.6" fill="#1a1a1a" stroke="#1a1a1a" stroke-width="0.12">10</text>
<line x1="318.5" y1="211.6" x2="321.5" y2="211.6" stroke="#222" stroke-width="0.9"/>
<text x="316.5" y="214.2" text-anchor="end" font-size="7.6" fill="#1a1a1a" stroke="#1a1a1a" stroke-width="0.12">1</text>
<line x1="318.5" y1="228.1" x2="321.5" y2="228.1" stroke="#222" stroke-width="0.9"/>
<text x="316.5" y="230.7" text-anchor="end" font-size="7.6" fill="#1a1a1a" stroke="#1a1a1a" stroke-width="0.12">0.1</text>
<line x1="318.5" y1="244.5" x2="321.5" y2="244.5" stroke="#222" stroke-width="0.9"/>
<text x="316.5" y="247.1" text-anchor="end" font-size="7.6" fill="#1a1a1a" stroke="#1a1a1a" stroke-width="0.12">0.01</text>
<rect x="70.3" y="366" width="206.7" height="30.80000000000001" fill="#d3d3d3"/>
<rect x="322.6" y="366.7" width="173.39999999999998" height="30.100000000000023" fill="#d3d3d3"/>
<rect x="75.3" y="333.0" width="9.2" height="63.8" fill="white" stroke="#222" stroke-width="1"/>
<path d="M79.9 333.0V330.5M77.9 330.5H81.9" stroke="#222" stroke-width="0.8" fill="none"/>
<circle cx="78.8" cy="340.1" r="0.8" fill="#111"/>
<circle cx="77.2" cy="342.1" r="0.8" fill="#111"/>
<circle cx="80.1" cy="333.6" r="0.8" fill="#111"/>
<circle cx="79.9" cy="336.5" r="0.8" fill="#111"/>
<circle cx="77.0" cy="332.9" r="0.8" fill="#111"/>
<circle cx="77.4" cy="335.9" r="0.8" fill="#111"/>
<circle cx="79.4" cy="336.4" r="0.8" fill="#111"/>
<circle cx="78.2" cy="332.3" r="0.8" fill="#111"/>
<circle cx="80.7" cy="342.5" r="0.8" fill="#111"/>
<circle cx="79.3" cy="332.5" r="0.8" fill="#111"/>
<circle cx="82.9" cy="346.4" r="0.8" fill="#111"/>
<circle cx="78.6" cy="338.4" r="0.8" fill="#111"/>
<circle cx="77.7" cy="338.8" r="0.8" fill="#111"/>
<circle cx="81.9" cy="338.5" r="0.8" fill="#111"/>
<circle cx="77.9" cy="327.5" r="0.8" fill="#111"/>
<circle cx="79.1" cy="330.8" r="0.8" fill="#111"/>
<circle cx="80.2" cy="336.9" r="0.8" fill="#111"/>
<circle cx="78.1" cy="335.8" r="0.8" fill="#111"/>
<circle cx="81.0" cy="330.3" r="0.8" fill="#111"/>
<circle cx="80.4" cy="337.3" r="0.8" fill="#111"/>
<line x1="79.9" y1="396.8" x2="79.9" y2="400.5" stroke="#222" stroke-width="0.8"/>
<text x="86.9" y="407.2" text-anchor="end" transform="rotate(-53 86.9 407.2)" font-size="9.0" fill="#111" stroke="#111" stroke-width="0.2"><tspan>ZΔMDA</tspan></text>
<rect x="89.7" y="366.0" width="9.2" height="30.8" fill="#a2a1a7" stroke="#222" stroke-width="1"/>
<path d="M94.3 366.0V363.5M92.3 363.5H96.3" stroke="#222" stroke-width="0.8" fill="none"/>
<circle cx="94.0" cy="366.5" r="0.8" fill="#111"/>
<circle cx="95.5" cy="388.9" r="0.8" fill="#111"/>
<circle cx="92.7" cy="361.1" r="0.8" fill="#111"/>
<circle cx="96.6" cy="366.5" r="0.8" fill="#111"/>
<circle cx="95.7" cy="365.4" r="0.8" fill="#111"/>
<circle cx="91.9" cy="395.3" r="0.8" fill="#111"/>
<circle cx="93.8" cy="372.3" r="0.8" fill="#111"/>
<circle cx="94.2" cy="366.3" r="0.8" fill="#111"/>
<circle cx="91.4" cy="363.6" r="0.8" fill="#111"/>
<circle cx="94.7" cy="357.2" r="0.8" fill="#111"/>
<circle cx="96.6" cy="366.0" r="0.8" fill="#111"/>
<circle cx="94.9" cy="386.2" r="0.8" fill="#111"/>
<circle cx="94.8" cy="356.0" r="0.8" fill="#111"/>
<circle cx="97.0" cy="377.2" r="0.8" fill="#111"/>
<circle cx="94.1" cy="370.2" r="0.8" fill="#111"/>
<circle cx="95.5" cy="369.0" r="0.8" fill="#111"/>
<circle cx="95.2" cy="390.6" r="0.8" fill="#111"/>
<circle cx="92.9" cy="371.2" r="0.8" fill="#111"/>
<circle cx="93.6" cy="371.0" r="0.8" fill="#111"/>
<circle cx="94.0" cy="370.1" r="0.8" fill="#111"/>
<line x1="94.3" y1="396.8" x2="94.3" y2="400.5" stroke="#222" stroke-width="0.8"/>
<text x="101.3" y="407.2" text-anchor="end" transform="rotate(-53 101.3 407.2)" font-size="9.0" fill="#111" stroke="#111" stroke-width="0.2"><tspan>Δ</tspan><tspan font-style="italic">pilD</tspan></text>
<text x="96.5" y="329.8" transform="rotate(-90 96.5 329.8)" font-size="6.4" fill="#3a3a3a" textLength="22.6" lengthAdjust="spacingAndGlyphs"><tspan font-style="italic">p</tspan>=0.0001</text>
<rect x="104.0" y="363.2" width="9.2" height="33.6" fill="#a2a1a7" stroke="#222" stroke-width="1"/>
<path d="M108.6 363.2V360.7M106.6 360.7H110.6" stroke="#222" stroke-width="0.8" fill="none"/>
<circle cx="106.6" cy="371.8" r="0.8" fill="#111"/>
<circle cx="110.3" cy="371.5" r="0.8" fill="#111"/>
<circle cx="106.3" cy="369.3" r="0.8" fill="#111"/>
<circle cx="110.9" cy="379.2" r="0.8" fill="#111"/>
<circle cx="106.0" cy="357.2" r="0.8" fill="#111"/>
<circle cx="111.0" cy="373.2" r="0.8" fill="#111"/>
<circle cx="110.6" cy="374.5" r="0.8" fill="#111"/>
<circle cx="108.1" cy="363.1" r="0.8" fill="#111"/>
<circle cx="107.8" cy="388.0" r="0.8" fill="#111"/>
<circle cx="106.5" cy="353.2" r="0.8" fill="#111"/>
<circle cx="106.6" cy="370.0" r="0.8" fill="#111"/>
<circle cx="108.5" cy="376.4" r="0.8" fill="#111"/>
<circle cx="109.2" cy="369.1" r="0.8" fill="#111"/>
<circle cx="108.1" cy="370.1" r="0.8" fill="#111"/>
<circle cx="107.8" cy="353.2" r="0.8" fill="#111"/>
<circle cx="109.8" cy="359.2" r="0.8" fill="#111"/>
<circle cx="108.7" cy="358.1" r="0.8" fill="#111"/>
<circle cx="105.9" cy="359.1" r="0.8" fill="#111"/>
<circle cx="111.1" cy="373.0" r="0.8" fill="#111"/>
<circle cx="110.5" cy="353.2" r="0.8" fill="#111"/>
<line x1="108.6" y1="396.8" x2="108.6" y2="400.5" stroke="#222" stroke-width="0.8"/>
<text x="115.6" y="407.2" text-anchor="end" transform="rotate(-53 115.6 407.2)" font-size="9.0" fill="#111" stroke="#111" stroke-width="0.2"><tspan>Δ</tspan><tspan font-style="italic">pilF</tspan></text>
<text x="110.8" y="329.8" transform="rotate(-90 110.8 329.8)" font-size="6.4" fill="#3a3a3a" textLength="22.6" lengthAdjust="spacingAndGlyphs"><tspan font-style="italic">p</tspan>=0.0001</text>
<rect x="118.4" y="366.0" width="9.2" height="30.8" fill="#a2a1a7" stroke="#222" stroke-width="1"/>
<path d="M123.0 366.0V363.5M121.0 363.5H125.0" stroke="#222" stroke-width="0.8" fill="none"/>
<circle cx="122.3" cy="368.2" r="0.8" fill="#111"/>
<circle cx="123.8" cy="374.8" r="0.8" fill="#111"/>
<circle cx="120.3" cy="378.2" r="0.8" fill="#111"/>
<circle cx="120.9" cy="374.8" r="0.8" fill="#111"/>
<circle cx="122.0" cy="372.2" r="0.8" fill="#111"/>
<circle cx="120.8" cy="372.1" r="0.8" fill="#111"/>
<circle cx="120.5" cy="370.5" r="0.8" fill="#111"/>
<circle cx="125.3" cy="373.7" r="0.8" fill="#111"/>
<circle cx="123.7" cy="376.5" r="0.8" fill="#111"/>
<circle cx="122.1" cy="378.1" r="0.8" fill="#111"/>
<circle cx="122.2" cy="385.9" r="0.8" fill="#111"/>
<circle cx="126.1" cy="385.6" r="0.8" fill="#111"/>
<circle cx="122.8" cy="367.8" r="0.8" fill="#111"/>
<circle cx="120.5" cy="372.4" r="0.8" fill="#111"/>
<circle cx="122.0" cy="370.3" r="0.8" fill="#111"/>
<circle cx="120.9" cy="390.7" r="0.8" fill="#111"/>
<circle cx="120.1" cy="383.7" r="0.8" fill="#111"/>
<circle cx="120.8" cy="368.3" r="0.8" fill="#111"/>
<circle cx="123.3" cy="384.1" r="0.8" fill="#111"/>
<circle cx="126.0" cy="374.1" r="0.8" fill="#111"/>
<line x1="123.0" y1="396.8" x2="123.0" y2="400.5" stroke="#222" stroke-width="0.8"/>
<text x="130.0" y="407.2" text-anchor="end" transform="rotate(-53 130.0 407.2)" font-size="9.0" fill="#111" stroke="#111" stroke-width="0.2"><tspan>Δ</tspan><tspan font-style="italic">pilG</tspan></text>
<text x="125.2" y="329.8" transform="rotate(-90 125.2 329.8)" font-size="6.4" fill="#3a3a3a" textLength="22.6" lengthAdjust="spacingAndGlyphs"><tspan font-style="italic">p</tspan>=0.0001</text>
<rect x="132.8" y="366.0" width="9.2" height="30.8" fill="#a2a1a7" stroke="#222" stroke-width="1"/>
<path d="M137.4 366.0V363.5M135.4 363.5H139.4" stroke="#222" stroke-width="0.8" fill="none"/>
<circle cx="139.6" cy="369.4" r="0.8" fill="#111"/>
<circle cx="136.6" cy="364.7" r="0.8" fill="#111"/>
<circle cx="135.3" cy="373.7" r="0.8" fill="#111"/>
<circle cx="139.1" cy="359.8" r="0.8" fill="#111"/>
<circle cx="136.3" cy="375.1" r="0.8" fill="#111"/>
<circle cx="140.4" cy="390.0" r="0.8" fill="#111"/>
<circle cx="139.6" cy="378.4" r="0.8" fill="#111"/>
<circle cx="138.9" cy="356.0" r="0.8" fill="#111"/>
<circle cx="135.7" cy="362.7" r="0.8" fill="#111"/>
<circle cx="134.5" cy="371.0" r="0.8" fill="#111"/>
<circle cx="134.5" cy="370.6" r="0.8" fill="#111"/>
<circle cx="138.6" cy="379.6" r="0.8" fill="#111"/>
<circle cx="140.2" cy="356.0" r="0.8" fill="#111"/>
<circle cx="140.4" cy="379.7" r="0.8" fill="#111"/>
<circle cx="140.2" cy="367.3" r="0.8" fill="#111"/>
<circle cx="135.7" cy="377.3" r="0.8" fill="#111"/>
<circle cx="135.5" cy="376.0" r="0.8" fill="#111"/>
<circle cx="139.9" cy="385.4" r="0.8" fill="#111"/>
<circle cx="139.5" cy="357.6" r="0.8" fill="#111"/>
<circle cx="139.2" cy="373.9" r="0.8" fill="#111"/>
<line x1="137.4" y1="396.8" x2="137.4" y2="400.5" stroke="#222" stroke-width="0.8"/>
<text x="144.4" y="407.2" text-anchor="end" transform="rotate(-53 144.4 407.2)" font-size="9.0" fill="#111" stroke="#111" stroke-width="0.2"><tspan>Δ</tspan><tspan font-style="italic">pilP</tspan></text>
<text x="139.6" y="329.8" transform="rotate(-90 139.6 329.8)" font-size="6.4" fill="#3a3a3a" textLength="22.6" lengthAdjust="spacingAndGlyphs"><tspan font-style="italic">p</tspan>=0.0001</text>
<rect x="147.1" y="366.0" width="9.2" height="30.8" fill="#a2a1a7" stroke="#222" stroke-width="1"/>
<path d="M151.7 366.0V363.5M149.7 363.5H153.7" stroke="#222" stroke-width="0.8" fill="none"/>
<circle cx="149.2" cy="360.3" r="0.8" fill="#111"/>
<circle cx="153.5" cy="356.0" r="0.8" fill="#111"/>
<circle cx="153.3" cy="365.8" r="0.8" fill="#111"/>
<circle cx="153.5" cy="372.9" r="0.8" fill="#111"/>
<circle cx="150.7" cy="380.4" r="0.8" fill="#111"/>
<circle cx="151.1" cy="356.0" r="0.8" fill="#111"/>
<circle cx="151.1" cy="387.2" r="0.8" fill="#111"/>
<circle cx="149.7" cy="366.7" r="0.8" fill="#111"/>
<circle cx="149.4" cy="384.6" r="0.8" fill="#111"/>
<circle cx="153.7" cy="389.6" r="0.8" fill="#111"/>
<circle cx="149.6" cy="385.0" r="0.8" fill="#111"/>
<circle cx="152.7" cy="356.0" r="0.8" fill="#111"/>
<circle cx="150.8" cy="366.9" r="0.8" fill="#111"/>
<circle cx="148.7" cy="370.4" r="0.8" fill="#111"/>
<circle cx="154.7" cy="364.8" r="0.8" fill="#111"/>
<circle cx="154.4" cy="362.1" r="0.8" fill="#111"/>
<circle cx="151.3" cy="385.0" r="0.8" fill="#111"/>
<circle cx="150.0" cy="358.5" r="0.8" fill="#111"/>
<circle cx="150.2" cy="370.0" r="0.8" fill="#111"/>
<circle cx="152.3" cy="379.1" r="0.8" fill="#111"/>
<line x1="151.7" y1="396.8" x2="151.7" y2="400.5" stroke="#222" stroke-width="0.8"/>
<text x="158.7" y="407.2" text-anchor="end" transform="rotate(-53 158.7 407.2)" font-size="9.0" fill="#111" stroke="#111" stroke-width="0.2"><tspan>Δ</tspan><tspan font-style="italic">pilQ</tspan></text>
<text x="153.9" y="329.8" transform="rotate(-90 153.9 329.8)" font-size="6.4" fill="#3a3a3a" textLength="22.6" lengthAdjust="spacingAndGlyphs"><tspan font-style="italic">p</tspan>=0.0001</text>
<rect x="161.5" y="325.5" width="9.2" height="71.3" fill="#a2a1a7" stroke="#222" stroke-width="1"/>
<path d="M166.1 325.5V323.0M164.1 323.0H168.1" stroke="#222" stroke-width="0.8" fill="none"/>
<circle cx="164.6" cy="324.7" r="0.8" fill="#111"/>
<circle cx="168.7" cy="329.0" r="0.8" fill="#111"/>
<circle cx="165.2" cy="319.8" r="0.8" fill="#111"/>
<circle cx="168.6" cy="329.6" r="0.8" fill="#111"/>
<circle cx="165.6" cy="333.7" r="0.8" fill="#111"/>
<circle cx="166.3" cy="324.0" r="0.8" fill="#111"/>
<circle cx="166.3" cy="333.9" r="0.8" fill="#111"/>
<circle cx="164.2" cy="328.3" r="0.8" fill="#111"/>
<circle cx="163.0" cy="328.6" r="0.8" fill="#111"/>
<circle cx="166.0" cy="324.0" r="0.8" fill="#111"/>
<circle cx="167.5" cy="322.5" r="0.8" fill="#111"/>
<circle cx="166.2" cy="325.6" r="0.8" fill="#111"/>
<circle cx="166.5" cy="328.1" r="0.8" fill="#111"/>
<circle cx="166.5" cy="324.7" r="0.8" fill="#111"/>
<circle cx="164.6" cy="325.8" r="0.8" fill="#111"/>
<circle cx="166.2" cy="337.7" r="0.8" fill="#111"/>
<circle cx="166.5" cy="328.3" r="0.8" fill="#111"/>
<circle cx="165.8" cy="315.5" r="0.8" fill="#111"/>
<circle cx="166.8" cy="320.3" r="0.8" fill="#111"/>
<circle cx="167.3" cy="327.2" r="0.8" fill="#111"/>
<line x1="166.1" y1="396.8" x2="166.1" y2="400.5" stroke="#222" stroke-width="0.8"/>
<text x="173.1" y="407.2" text-anchor="end" transform="rotate(-53 173.1 407.2)" font-size="9.0" fill="#111" stroke="#111" stroke-width="0.2"><tspan>Δ</tspan><tspan font-style="italic">pilT</tspan></text>
<rect x="175.9" y="328.0" width="9.2" height="68.8" fill="#a2a1a7" stroke="#222" stroke-width="1"/>
<path d="M180.5 328.0V325.5M178.5 325.5H182.5" stroke="#222" stroke-width="0.8" fill="none"/>
<circle cx="180.2" cy="323.3" r="0.8" fill="#111"/>
<circle cx="183.2" cy="328.6" r="0.8" fill="#111"/>
<circle cx="181.7" cy="340.2" r="0.8" fill="#111"/>
<circle cx="179.0" cy="320.0" r="0.8" fill="#111"/>
<circle cx="180.9" cy="340.8" r="0.8" fill="#111"/>
<circle cx="178.2" cy="326.0" r="0.8" fill="#111"/>
<circle cx="178.1" cy="327.8" r="0.8" fill="#111"/>
<circle cx="178.9" cy="330.8" r="0.8" fill="#111"/>
<circle cx="177.8" cy="324.9" r="0.8" fill="#111"/>
<circle cx="183.0" cy="320.8" r="0.8" fill="#111"/>
<circle cx="178.3" cy="328.1" r="0.8" fill="#111"/>
<circle cx="178.3" cy="321.4" r="0.8" fill="#111"/>
<circle cx="182.9" cy="334.1" r="0.8" fill="#111"/>
<circle cx="183.3" cy="329.1" r="0.8" fill="#111"/>
<circle cx="179.9" cy="318.0" r="0.8" fill="#111"/>
<circle cx="182.6" cy="331.5" r="0.8" fill="#111"/>
<circle cx="178.4" cy="323.4" r="0.8" fill="#111"/>
<circle cx="179.5" cy="333.0" r="0.8" fill="#111"/>
<circle cx="178.6" cy="326.0" r="0.8" fill="#111"/>
<circle cx="177.5" cy="338.7" r="0.8" fill="#111"/>
<line x1="180.5" y1="396.8" x2="180.5" y2="400.5" stroke="#222" stroke-width="0.8"/>
<text x="187.5" y="407.2" text-anchor="end" transform="rotate(-53 187.5 407.2)" font-size="9.0" fill="#111" stroke="#111" stroke-width="0.2"><tspan>Δ</tspan><tspan font-style="italic">pilT2</tspan></text>
<rect x="190.3" y="324.0" width="9.2" height="72.8" fill="#a2a1a7" stroke="#222" stroke-width="1"/>
<path d="M194.9 324.0V321.5M192.9 321.5H196.9" stroke="#222" stroke-width="0.8" fill="none"/>
<circle cx="195.2" cy="324.9" r="0.8" fill="#111"/>
<circle cx="193.8" cy="326.4" r="0.8" fill="#111"/>
<circle cx="195.6" cy="323.8" r="0.8" fill="#111"/>
<circle cx="197.9" cy="325.8" r="0.8" fill="#111"/>
<circle cx="196.6" cy="328.8" r="0.8" fill="#111"/>
<circle cx="193.4" cy="325.5" r="0.8" fill="#111"/>
<circle cx="192.0" cy="326.9" r="0.8" fill="#111"/>
<circle cx="192.6" cy="321.3" r="0.8" fill="#111"/>
<circle cx="194.4" cy="335.4" r="0.8" fill="#111"/>
<circle cx="193.4" cy="320.1" r="0.8" fill="#111"/>
<circle cx="192.7" cy="332.8" r="0.8" fill="#111"/>
<circle cx="196.1" cy="322.2" r="0.8" fill="#111"/>
<circle cx="192.3" cy="334.6" r="0.8" fill="#111"/>
<circle cx="194.4" cy="329.2" r="0.8" fill="#111"/>
<circle cx="192.2" cy="333.9" r="0.8" fill="#111"/>
<circle cx="196.7" cy="322.8" r="0.8" fill="#111"/>
<circle cx="192.3" cy="327.4" r="0.8" fill="#111"/>
<circle cx="197.1" cy="324.3" r="0.8" fill="#111"/>
<circle cx="194.6" cy="322.0" r="0.8" fill="#111"/>
<circle cx="197.5" cy="332.5" r="0.8" fill="#111"/>
<line x1="194.9" y1="396.8" x2="194.9" y2="400.5" stroke="#222" stroke-width="0.8"/>
<text x="201.9" y="407.2" text-anchor="end" transform="rotate(-53 201.9 407.2)" font-size="9.0" fill="#111" stroke="#111" stroke-width="0.2"><tspan>Δ</tspan><tspan font-style="italic">pilU</tspan></text>
<rect x="204.6" y="366.0" width="9.2" height="30.8" fill="#a2a1a7" stroke="#222" stroke-width="1"/>
<path d="M209.2 366.0V363.5M207.2 363.5H211.2" stroke="#222" stroke-width="0.8" fill="none"/>
<circle cx="207.8" cy="380.4" r="0.8" fill="#111"/>
<circle cx="207.6" cy="380.9" r="0.8" fill="#111"/>
<circle cx="206.8" cy="373.7" r="0.8" fill="#111"/>
<circle cx="207.4" cy="374.7" r="0.8" fill="#111"/>
<circle cx="208.1" cy="366.3" r="0.8" fill="#111"/>
<circle cx="207.9" cy="387.9" r="0.8" fill="#111"/>
<circle cx="209.2" cy="376.0" r="0.8" fill="#111"/>
<circle cx="206.2" cy="380.3" r="0.8" fill="#111"/>
<circle cx="207.7" cy="388.2" r="0.8" fill="#111"/>
<circle cx="209.5" cy="373.6" r="0.8" fill="#111"/>
<circle cx="207.3" cy="356.0" r="0.8" fill="#111"/>
<circle cx="206.8" cy="375.7" r="0.8" fill="#111"/>
<circle cx="211.2" cy="361.4" r="0.8" fill="#111"/>
<circle cx="211.3" cy="376.8" r="0.8" fill="#111"/>
<circle cx="208.6" cy="356.8" r="0.8" fill="#111"/>
<circle cx="212.2" cy="371.4" r="0.8" fill="#111"/>
<circle cx="208.3" cy="379.7" r="0.8" fill="#111"/>
<circle cx="210.1" cy="358.4" r="0.8" fill="#111"/>
<circle cx="208.6" cy="370.1" r="0.8" fill="#111"/>
<circle cx="206.9" cy="374.7" r="0.8" fill="#111"/>
<line x1="209.2" y1="396.8" x2="209.2" y2="400.5" stroke="#222" stroke-width="0.8"/>
<text x="216.2" y="407.2" text-anchor="end" transform="rotate(-53 216.2 407.2)" font-size="9.0" fill="#111" stroke="#111" stroke-width="0.2"><tspan>Δ</tspan><tspan font-style="italic">pilW</tspan></text>
<text x="211.4" y="329.8" transform="rotate(-90 211.4 329.8)" font-size="6.4" fill="#3a3a3a" textLength="22.6" lengthAdjust="spacingAndGlyphs"><tspan font-style="italic">p</tspan>=0.0001</text>
<rect x="219.0" y="344.0" width="9.2" height="52.8" fill="#a2a1a7" stroke="#222" stroke-width="1"/>
<path d="M223.6 344.0V341.5M221.6 341.5H225.6" stroke="#222" stroke-width="0.8" fill="none"/>
<circle cx="220.9" cy="345.7" r="0.8" fill="#111"/>
<circle cx="221.5" cy="341.4" r="0.8" fill="#111"/>
<circle cx="221.0" cy="352.6" r="0.8" fill="#111"/>
<circle cx="224.7" cy="335.8" r="0.8" fill="#111"/>
<circle cx="222.2" cy="346.2" r="0.8" fill="#111"/>
<circle cx="223.3" cy="351.0" r="0.8" fill="#111"/>
<circle cx="221.5" cy="341.6" r="0.8" fill="#111"/>
<circle cx="226.5" cy="347.6" r="0.8" fill="#111"/>
<circle cx="226.5" cy="341.7" r="0.8" fill="#111"/>
<circle cx="226.5" cy="344.7" r="0.8" fill="#111"/>
<circle cx="222.4" cy="345.8" r="0.8" fill="#111"/>
<circle cx="222.9" cy="346.2" r="0.8" fill="#111"/>
<circle cx="223.4" cy="342.0" r="0.8" fill="#111"/>
<circle cx="223.6" cy="345.9" r="0.8" fill="#111"/>
<circle cx="220.5" cy="345.8" r="0.8" fill="#111"/>
<circle cx="223.0" cy="348.6" r="0.8" fill="#111"/>
<circle cx="220.8" cy="351.1" r="0.8" fill="#111"/>
<circle cx="221.9" cy="346.7" r="0.8" fill="#111"/>
<circle cx="224.1" cy="336.2" r="0.8" fill="#111"/>
<circle cx="224.6" cy="344.2" r="0.8" fill="#111"/>
<line x1="223.6" y1="396.8" x2="223.6" y2="400.5" stroke="#222" stroke-width="0.8"/>
<text x="230.6" y="407.2" text-anchor="end" transform="rotate(-53 230.6 407.2)" font-size="9.0" fill="#111" stroke="#111" stroke-width="0.2"><tspan>Δ</tspan><tspan font-style="italic">pilZ</tspan></text>
<rect x="233.4" y="346.4" width="9.2" height="50.4" fill="#a2a1a7" stroke="#222" stroke-width="1"/>
<path d="M238.0 346.4V343.9M236.0 343.9H240.0" stroke="#222" stroke-width="0.8" fill="none"/>
<circle cx="239.3" cy="352.7" r="0.8" fill="#111"/>
<circle cx="236.9" cy="344.3" r="0.8" fill="#111"/>
<circle cx="241.0" cy="354.1" r="0.8" fill="#111"/>
<circle cx="238.9" cy="356.2" r="0.8" fill="#111"/>
<circle cx="235.1" cy="354.9" r="0.8" fill="#111"/>
<circle cx="238.8" cy="337.5" r="0.8" fill="#111"/>
<circle cx="239.4" cy="349.7" r="0.8" fill="#111"/>
<circle cx="238.1" cy="345.4" r="0.8" fill="#111"/>
<circle cx="238.0" cy="353.9" r="0.8" fill="#111"/>
<circle cx="240.0" cy="339.1" r="0.8" fill="#111"/>
<circle cx="238.5" cy="355.5" r="0.8" fill="#111"/>
<circle cx="239.2" cy="342.7" r="0.8" fill="#111"/>
<circle cx="236.3" cy="351.5" r="0.8" fill="#111"/>
<circle cx="237.1" cy="349.0" r="0.8" fill="#111"/>
<circle cx="235.5" cy="352.3" r="0.8" fill="#111"/>
<circle cx="238.8" cy="341.8" r="0.8" fill="#111"/>
<circle cx="238.8" cy="345.5" r="0.8" fill="#111"/>
<circle cx="234.9" cy="342.1" r="0.8" fill="#111"/>
<circle cx="239.8" cy="348.3" r="0.8" fill="#111"/>
<circle cx="238.2" cy="341.3" r="0.8" fill="#111"/>
<line x1="238.0" y1="396.8" x2="238.0" y2="400.5" stroke="#222" stroke-width="0.8"/>
<text x="245.0" y="407.2" text-anchor="end" transform="rotate(-53 245.0 407.2)" font-size="9.0" fill="#111" stroke="#111" stroke-width="0.2"><tspan>Δ</tspan><tspan font-style="italic">tfpC</tspan></text>
<rect x="247.7" y="336.2" width="9.2" height="60.6" fill="#a2a1a7" stroke="#222" stroke-width="1"/>
<path d="M252.3 336.2V333.7M250.3 333.7H254.3" stroke="#222" stroke-width="0.8" fill="none"/>
<circle cx="253.3" cy="347.2" r="0.8" fill="#111"/>
<circle cx="250.8" cy="342.2" r="0.8" fill="#111"/>
<circle cx="249.7" cy="337.3" r="0.8" fill="#111"/>
<circle cx="250.5" cy="347.9" r="0.8" fill="#111"/>
<circle cx="253.8" cy="345.1" r="0.8" fill="#111"/>
<circle cx="251.6" cy="337.1" r="0.8" fill="#111"/>
<circle cx="252.2" cy="334.1" r="0.8" fill="#111"/>
<circle cx="253.1" cy="328.8" r="0.8" fill="#111"/>
<circle cx="253.2" cy="341.2" r="0.8" fill="#111"/>
<circle cx="250.8" cy="339.8" r="0.8" fill="#111"/>
<circle cx="253.8" cy="335.6" r="0.8" fill="#111"/>
<circle cx="249.3" cy="345.5" r="0.8" fill="#111"/>
<circle cx="249.6" cy="337.1" r="0.8" fill="#111"/>
<circle cx="253.5" cy="347.1" r="0.8" fill="#111"/>
<circle cx="253.4" cy="336.4" r="0.8" fill="#111"/>
<circle cx="252.1" cy="345.2" r="0.8" fill="#111"/>
<circle cx="252.1" cy="347.5" r="0.8" fill="#111"/>
<circle cx="250.5" cy="346.8" r="0.8" fill="#111"/>
<circle cx="255.3" cy="339.2" r="0.8" fill="#111"/>
<circle cx="252.1" cy="337.8" r="0.8" fill="#111"/>
<line x1="252.3" y1="396.8" x2="252.3" y2="400.5" stroke="#222" stroke-width="0.8"/>
<text x="259.3" y="407.2" text-anchor="end" transform="rotate(-53 259.3 407.2)" font-size="9.0" fill="#111" stroke="#111" stroke-width="0.2"><tspan>Δ</tspan><tspan>NMA0415</tspan></text>
<rect x="262.1" y="343.0" width="9.2" height="53.8" fill="#a2a1a7" stroke="#222" stroke-width="1"/>
<path d="M266.7 343.0V340.5M264.7 340.5H268.7" stroke="#222" stroke-width="0.8" fill="none"/>
<circle cx="268.7" cy="351.4" r="0.8" fill="#111"/>
<circle cx="265.3" cy="343.7" r="0.8" fill="#111"/>
<circle cx="264.9" cy="348.9" r="0.8" fill="#111"/>
<circle cx="267.2" cy="343.6" r="0.8" fill="#111"/>
<circle cx="264.5" cy="333.0" r="0.8" fill="#111"/>
<circle cx="264.4" cy="342.8" r="0.8" fill="#111"/>
<circle cx="268.7" cy="333.0" r="0.8" fill="#111"/>
<circle cx="268.0" cy="344.3" r="0.8" fill="#111"/>
<circle cx="265.0" cy="350.5" r="0.8" fill="#111"/>
<circle cx="263.8" cy="340.9" r="0.8" fill="#111"/>
<circle cx="263.6" cy="338.4" r="0.8" fill="#111"/>
<circle cx="265.5" cy="345.3" r="0.8" fill="#111"/>
<circle cx="264.5" cy="342.1" r="0.8" fill="#111"/>
<circle cx="268.8" cy="349.3" r="0.8" fill="#111"/>
<circle cx="263.6" cy="345.1" r="0.8" fill="#111"/>
<circle cx="264.4" cy="333.5" r="0.8" fill="#111"/>
<circle cx="269.4" cy="342.0" r="0.8" fill="#111"/>
<circle cx="265.4" cy="333.0" r="0.8" fill="#111"/>
<circle cx="265.9" cy="333.0" r="0.8" fill="#111"/>
<circle cx="267.3" cy="358.7" r="0.8" fill="#111"/>
<line x1="266.7" y1="396.8" x2="266.7" y2="400.5" stroke="#222" stroke-width="0.8"/>
<text x="273.7" y="407.2" text-anchor="end" transform="rotate(-53 273.7 407.2)" font-size="9.0" fill="#111" stroke="#111" stroke-width="0.2"><tspan>Δ</tspan><tspan font-style="italic">tsaP</tspan></text>
<line x1="69.8" y1="396.8" x2="277" y2="396.8" stroke="#222" stroke-width="1"/>
<line x1="69.8" y1="315.3" x2="69.8" y2="396.8" stroke="#222" stroke-width="1"/>
<line x1="66.8" y1="315.3" x2="69.8" y2="315.3" stroke="#222" stroke-width="0.9"/>
<text x="64.8" y="317.9" text-anchor="end" font-size="7.6" fill="#1a1a1a" stroke="#1a1a1a" stroke-width="0.12">1</text>
<line x1="66.8" y1="335.7" x2="69.8" y2="335.7" stroke="#222" stroke-width="0.9"/>
<text x="64.8" y="338.3" text-anchor="end" font-size="7.6" fill="#1a1a1a" stroke="#1a1a1a" stroke-width="0.12">0.1</text>
<line x1="66.8" y1="356.1" x2="69.8" y2="356.1" stroke="#222" stroke-width="0.9"/>
<text x="64.8" y="358.7" text-anchor="end" font-size="7.6" fill="#1a1a1a" stroke="#1a1a1a" stroke-width="0.12">0.01</text>
<line x1="66.8" y1="376.4" x2="69.8" y2="376.4" stroke="#222" stroke-width="0.9"/>
<text x="64.8" y="379.0" text-anchor="end" font-size="7.6" fill="#1a1a1a" stroke="#1a1a1a" stroke-width="0.12">0.001</text>
<line x1="66.8" y1="396.8" x2="69.8" y2="396.8" stroke="#222" stroke-width="0.9"/>
<text x="64.8" y="399.4" text-anchor="end" font-size="7.6" fill="#1a1a1a" stroke="#1a1a1a" stroke-width="0.12">0.0001</text>
<rect x="326.8" y="332.8" width="9.8" height="64.0" fill="white" stroke="#222" stroke-width="1"/>
<path d="M331.7 332.8V330.3M329.7 330.3H333.7" stroke="#222" stroke-width="0.8" fill="none"/>
<circle cx="330.8" cy="330.5" r="0.8" fill="#111"/>
<circle cx="328.6" cy="336.9" r="0.8" fill="#111"/>
<circle cx="329.0" cy="337.3" r="0.8" fill="#111"/>
<circle cx="334.7" cy="330.6" r="0.8" fill="#111"/>
<circle cx="330.0" cy="334.1" r="0.8" fill="#111"/>
<circle cx="329.6" cy="341.9" r="0.8" fill="#111"/>
<circle cx="330.8" cy="346.8" r="0.8" fill="#111"/>
<circle cx="333.8" cy="331.4" r="0.8" fill="#111"/>
<circle cx="332.6" cy="347.0" r="0.8" fill="#111"/>
<circle cx="332.0" cy="327.4" r="0.8" fill="#111"/>
<circle cx="333.2" cy="344.1" r="0.8" fill="#111"/>
<circle cx="331.4" cy="337.8" r="0.8" fill="#111"/>
<circle cx="333.4" cy="331.8" r="0.8" fill="#111"/>
<circle cx="328.6" cy="330.9" r="0.8" fill="#111"/>
<circle cx="334.6" cy="339.5" r="0.8" fill="#111"/>
<circle cx="330.6" cy="339.7" r="0.8" fill="#111"/>
<circle cx="330.3" cy="333.7" r="0.8" fill="#111"/>
<circle cx="330.1" cy="322.8" r="0.8" fill="#111"/>
<circle cx="332.8" cy="332.4" r="0.8" fill="#111"/>
<circle cx="331.0" cy="342.1" r="0.8" fill="#111"/>
<line x1="331.7" y1="396.8" x2="331.7" y2="400.5" stroke="#222" stroke-width="0.8"/>
<text x="338.7" y="407.2" text-anchor="end" transform="rotate(-53 338.7 407.2)" font-size="9.0" fill="#111" stroke="#111" stroke-width="0.2"><tspan>ZΔMDA</tspan></text>
<rect x="342.1" y="349.8" width="9.8" height="47.0" fill="#a2a1a7" stroke="#222" stroke-width="1"/>
<path d="M347.0 349.8V347.3M345.0 347.3H349.0" stroke="#222" stroke-width="0.8" fill="none"/>
<circle cx="344.8" cy="354.0" r="0.8" fill="#111"/>
<circle cx="349.8" cy="355.3" r="0.8" fill="#111"/>
<circle cx="347.0" cy="354.2" r="0.8" fill="#111"/>
<circle cx="350.4" cy="364.6" r="0.8" fill="#111"/>
<circle cx="346.7" cy="354.3" r="0.8" fill="#111"/>
<circle cx="344.3" cy="354.8" r="0.8" fill="#111"/>
<circle cx="346.0" cy="355.5" r="0.8" fill="#111"/>
<circle cx="345.4" cy="354.2" r="0.8" fill="#111"/>
<circle cx="347.5" cy="359.4" r="0.8" fill="#111"/>
<circle cx="346.4" cy="345.3" r="0.8" fill="#111"/>
<circle cx="346.5" cy="346.0" r="0.8" fill="#111"/>
<circle cx="345.9" cy="350.9" r="0.8" fill="#111"/>
<circle cx="344.1" cy="349.1" r="0.8" fill="#111"/>
<circle cx="344.5" cy="367.3" r="0.8" fill="#111"/>
<circle cx="347.1" cy="343.6" r="0.8" fill="#111"/>
<circle cx="345.1" cy="343.1" r="0.8" fill="#111"/>
<circle cx="345.5" cy="351.9" r="0.8" fill="#111"/>
<circle cx="346.7" cy="357.9" r="0.8" fill="#111"/>
<circle cx="350.1" cy="358.9" r="0.8" fill="#111"/>
<circle cx="343.8" cy="341.9" r="0.8" fill="#111"/>
<line x1="347.0" y1="396.8" x2="347.0" y2="400.5" stroke="#222" stroke-width="0.8"/>
<text x="354.0" y="407.2" text-anchor="end" transform="rotate(-53 354.0 407.2)" font-size="9.0" fill="#111" stroke="#111" stroke-width="0.2"><tspan>Δ</tspan><tspan font-style="italic">pilC1</tspan></text>
<rect x="357.5" y="342.8" width="9.8" height="54.0" fill="#a2a1a7" stroke="#222" stroke-width="1"/>
<path d="M362.4 342.8V340.3M360.4 340.3H364.4" stroke="#222" stroke-width="0.8" fill="none"/>
<circle cx="359.2" cy="341.6" r="0.8" fill="#111"/>
<circle cx="362.2" cy="332.8" r="0.8" fill="#111"/>
<circle cx="363.0" cy="350.8" r="0.8" fill="#111"/>
<circle cx="365.3" cy="344.8" r="0.8" fill="#111"/>
<circle cx="364.6" cy="354.7" r="0.8" fill="#111"/>
<circle cx="360.7" cy="332.8" r="0.8" fill="#111"/>
<circle cx="359.7" cy="348.9" r="0.8" fill="#111"/>
<circle cx="363.6" cy="350.8" r="0.8" fill="#111"/>
<circle cx="365.4" cy="343.3" r="0.8" fill="#111"/>
<circle cx="364.2" cy="336.3" r="0.8" fill="#111"/>
<circle cx="362.1" cy="343.2" r="0.8" fill="#111"/>
<circle cx="364.3" cy="344.3" r="0.8" fill="#111"/>
<circle cx="360.6" cy="352.4" r="0.8" fill="#111"/>
<circle cx="361.0" cy="340.6" r="0.8" fill="#111"/>
<circle cx="359.9" cy="344.7" r="0.8" fill="#111"/>
<circle cx="363.7" cy="353.3" r="0.8" fill="#111"/>
<circle cx="359.7" cy="351.4" r="0.8" fill="#111"/>
<circle cx="362.9" cy="347.9" r="0.8" fill="#111"/>
<circle cx="361.6" cy="346.1" r="0.8" fill="#111"/>
<circle cx="359.1" cy="352.8" r="0.8" fill="#111"/>
<line x1="362.4" y1="396.8" x2="362.4" y2="400.5" stroke="#222" stroke-width="0.8"/>
<text x="369.4" y="407.2" text-anchor="end" transform="rotate(-53 369.4 407.2)" font-size="9.0" fill="#111" stroke="#111" stroke-width="0.2"><tspan>Δ</tspan><tspan font-style="italic">pilC2</tspan></text>
<rect x="372.8" y="367.2" width="9.8" height="29.6" fill="#a2a1a7" stroke="#222" stroke-width="1"/>
<path d="M377.7 367.2V364.7M375.7 364.7H379.7" stroke="#222" stroke-width="0.8" fill="none"/>
<circle cx="376.4" cy="357.2" r="0.8" fill="#111"/>
<circle cx="378.7" cy="379.4" r="0.8" fill="#111"/>
<circle cx="380.3" cy="366.0" r="0.8" fill="#111"/>
<circle cx="376.0" cy="374.3" r="0.8" fill="#111"/>
<circle cx="380.9" cy="370.8" r="0.8" fill="#111"/>
<circle cx="374.5" cy="365.0" r="0.8" fill="#111"/>
<circle cx="377.7" cy="368.4" r="0.8" fill="#111"/>
<circle cx="376.1" cy="363.9" r="0.8" fill="#111"/>
<circle cx="378.9" cy="379.6" r="0.8" fill="#111"/>
<circle cx="374.6" cy="370.0" r="0.8" fill="#111"/>
<circle cx="376.6" cy="359.9" r="0.8" fill="#111"/>
<circle cx="375.7" cy="380.5" r="0.8" fill="#111"/>
<circle cx="379.7" cy="372.4" r="0.8" fill="#111"/>
<circle cx="375.7" cy="361.4" r="0.8" fill="#111"/>
<circle cx="380.9" cy="366.2" r="0.8" fill="#111"/>
<circle cx="375.9" cy="390.3" r="0.8" fill="#111"/>
<circle cx="375.8" cy="373.7" r="0.8" fill="#111"/>
<circle cx="380.8" cy="364.9" r="0.8" fill="#111"/>
<circle cx="377.7" cy="375.9" r="0.8" fill="#111"/>
<circle cx="377.2" cy="379.8" r="0.8" fill="#111"/>
<line x1="377.7" y1="396.8" x2="377.7" y2="400.5" stroke="#222" stroke-width="0.8"/>
<text x="384.7" y="407.2" text-anchor="end" transform="rotate(-53 384.7 407.2)" font-size="9.0" fill="#111" stroke="#111" stroke-width="0.2"><tspan>Δ</tspan><tspan font-style="italic">pilC1/C2</tspan></text>
<text x="379.9" y="329.8" transform="rotate(-90 379.9 329.8)" font-size="6.4" fill="#3a3a3a" textLength="22.6" lengthAdjust="spacingAndGlyphs"><tspan font-style="italic">p</tspan>=0.0001</text>
<rect x="388.2" y="370.7" width="9.8" height="26.1" fill="#a2a1a7" stroke="#222" stroke-width="1"/>
<path d="M393.1 370.7V368.2M391.1 368.2H395.1" stroke="#222" stroke-width="0.8" fill="none"/>
<circle cx="394.2" cy="382.0" r="0.8" fill="#111"/>
<circle cx="392.3" cy="374.9" r="0.8" fill="#111"/>
<circle cx="391.1" cy="382.2" r="0.8" fill="#111"/>
<circle cx="390.0" cy="375.8" r="0.8" fill="#111"/>
<circle cx="390.1" cy="360.7" r="0.8" fill="#111"/>
<circle cx="395.7" cy="390.0" r="0.8" fill="#111"/>
<circle cx="394.6" cy="395.3" r="0.8" fill="#111"/>
<circle cx="391.9" cy="376.3" r="0.8" fill="#111"/>
<circle cx="390.9" cy="391.9" r="0.8" fill="#111"/>
<circle cx="389.9" cy="370.2" r="0.8" fill="#111"/>
<circle cx="394.2" cy="369.7" r="0.8" fill="#111"/>
<circle cx="391.9" cy="383.4" r="0.8" fill="#111"/>
<circle cx="390.8" cy="384.8" r="0.8" fill="#111"/>
<circle cx="392.0" cy="376.8" r="0.8" fill="#111"/>
<circle cx="396.2" cy="395.1" r="0.8" fill="#111"/>
<circle cx="391.1" cy="394.8" r="0.8" fill="#111"/>
<circle cx="392.1" cy="384.8" r="0.8" fill="#111"/>
<circle cx="392.6" cy="360.7" r="0.8" fill="#111"/>
<circle cx="390.0" cy="367.2" r="0.8" fill="#111"/>
<circle cx="395.9" cy="378.3" r="0.8" fill="#111"/>
<line x1="393.1" y1="396.8" x2="393.1" y2="400.5" stroke="#222" stroke-width="0.8"/>
<text x="400.1" y="407.2" text-anchor="end" transform="rotate(-53 400.1 407.2)" font-size="9.0" fill="#111" stroke="#111" stroke-width="0.2"><tspan>Δ</tspan><tspan font-style="italic">pilE</tspan></text>
<text x="395.3" y="329.8" transform="rotate(-90 395.3 329.8)" font-size="6.4" fill="#3a3a3a" textLength="22.6" lengthAdjust="spacingAndGlyphs"><tspan font-style="italic">p</tspan>=0.0001</text>
<rect x="403.5" y="366.2" width="9.8" height="30.6" fill="#a2a1a7" stroke="#222" stroke-width="1"/>
<path d="M408.4 366.2V363.7M406.4 363.7H410.4" stroke="#222" stroke-width="0.8" fill="none"/>
<circle cx="406.3" cy="358.2" r="0.8" fill="#111"/>
<circle cx="405.2" cy="388.3" r="0.8" fill="#111"/>
<circle cx="407.8" cy="378.7" r="0.8" fill="#111"/>
<circle cx="405.3" cy="356.4" r="0.8" fill="#111"/>
<circle cx="405.2" cy="393.0" r="0.8" fill="#111"/>
<circle cx="406.7" cy="380.8" r="0.8" fill="#111"/>
<circle cx="410.1" cy="379.5" r="0.8" fill="#111"/>
<circle cx="406.9" cy="366.8" r="0.8" fill="#111"/>
<circle cx="411.5" cy="366.4" r="0.8" fill="#111"/>
<circle cx="409.9" cy="367.0" r="0.8" fill="#111"/>
<circle cx="407.2" cy="372.1" r="0.8" fill="#111"/>
<circle cx="410.1" cy="373.1" r="0.8" fill="#111"/>
<circle cx="411.2" cy="356.2" r="0.8" fill="#111"/>
<circle cx="405.2" cy="356.2" r="0.8" fill="#111"/>
<circle cx="406.6" cy="356.2" r="0.8" fill="#111"/>
<circle cx="411.5" cy="376.1" r="0.8" fill="#111"/>
<circle cx="407.6" cy="372.1" r="0.8" fill="#111"/>
<circle cx="408.4" cy="382.8" r="0.8" fill="#111"/>
<circle cx="411.3" cy="379.6" r="0.8" fill="#111"/>
<circle cx="410.0" cy="388.6" r="0.8" fill="#111"/>
<line x1="408.4" y1="396.8" x2="408.4" y2="400.5" stroke="#222" stroke-width="0.8"/>
<text x="415.4" y="407.2" text-anchor="end" transform="rotate(-53 415.4 407.2)" font-size="9.0" fill="#111" stroke="#111" stroke-width="0.2"><tspan>Δ</tspan><tspan font-style="italic">pilH</tspan></text>
<text x="410.6" y="329.8" transform="rotate(-90 410.6 329.8)" font-size="6.4" fill="#3a3a3a" textLength="22.6" lengthAdjust="spacingAndGlyphs"><tspan font-style="italic">p</tspan>=0.0001</text>
<rect x="418.8" y="368.6" width="9.8" height="28.2" fill="#a2a1a7" stroke="#222" stroke-width="1"/>
<path d="M423.7 368.6V366.1M421.7 366.1H425.7" stroke="#222" stroke-width="0.8" fill="none"/>
<circle cx="425.9" cy="376.6" r="0.8" fill="#111"/>
<circle cx="422.6" cy="361.1" r="0.8" fill="#111"/>
<circle cx="422.5" cy="363.3" r="0.8" fill="#111"/>
<circle cx="420.9" cy="387.9" r="0.8" fill="#111"/>
<circle cx="421.7" cy="374.7" r="0.8" fill="#111"/>
<circle cx="420.8" cy="367.1" r="0.8" fill="#111"/>
<circle cx="420.6" cy="366.2" r="0.8" fill="#111"/>
<circle cx="427.0" cy="371.7" r="0.8" fill="#111"/>
<circle cx="426.3" cy="382.4" r="0.8" fill="#111"/>
<circle cx="420.9" cy="374.0" r="0.8" fill="#111"/>
<circle cx="421.0" cy="358.9" r="0.8" fill="#111"/>
<circle cx="423.4" cy="374.8" r="0.8" fill="#111"/>
<circle cx="421.9" cy="362.5" r="0.8" fill="#111"/>
<circle cx="424.9" cy="381.5" r="0.8" fill="#111"/>
<circle cx="425.4" cy="383.1" r="0.8" fill="#111"/>
<circle cx="421.2" cy="362.5" r="0.8" fill="#111"/>
<circle cx="426.1" cy="371.1" r="0.8" fill="#111"/>
<circle cx="422.9" cy="387.0" r="0.8" fill="#111"/>
<circle cx="425.4" cy="377.0" r="0.8" fill="#111"/>
<circle cx="422.0" cy="381.8" r="0.8" fill="#111"/>
<line x1="423.7" y1="396.8" x2="423.7" y2="400.5" stroke="#222" stroke-width="0.8"/>
<text x="430.7" y="407.2" text-anchor="end" transform="rotate(-53 430.7 407.2)" font-size="9.0" fill="#111" stroke="#111" stroke-width="0.2"><tspan>Δ</tspan><tspan font-style="italic">pilI</tspan></text>
<text x="425.9" y="329.8" transform="rotate(-90 425.9 329.8)" font-size="6.4" fill="#3a3a3a" textLength="22.6" lengthAdjust="spacingAndGlyphs"><tspan font-style="italic">p</tspan>=0.0001</text>
<rect x="434.2" y="366.2" width="9.8" height="30.6" fill="#a2a1a7" stroke="#222" stroke-width="1"/>
<path d="M439.1 366.2V363.7M437.1 363.7H441.1" stroke="#222" stroke-width="0.8" fill="none"/>
<circle cx="436.7" cy="382.0" r="0.8" fill="#111"/>
<circle cx="437.9" cy="363.5" r="0.8" fill="#111"/>
<circle cx="438.4" cy="384.1" r="0.8" fill="#111"/>
<circle cx="437.3" cy="371.6" r="0.8" fill="#111"/>
<circle cx="441.2" cy="356.2" r="0.8" fill="#111"/>
<circle cx="436.4" cy="356.2" r="0.8" fill="#111"/>
<circle cx="438.9" cy="380.3" r="0.8" fill="#111"/>
<circle cx="441.9" cy="356.2" r="0.8" fill="#111"/>
<circle cx="436.0" cy="370.8" r="0.8" fill="#111"/>
<circle cx="437.0" cy="377.1" r="0.8" fill="#111"/>
<circle cx="442.3" cy="356.2" r="0.8" fill="#111"/>
<circle cx="438.2" cy="360.7" r="0.8" fill="#111"/>
<circle cx="441.6" cy="364.8" r="0.8" fill="#111"/>
<circle cx="441.0" cy="374.6" r="0.8" fill="#111"/>
<circle cx="442.1" cy="382.8" r="0.8" fill="#111"/>
<circle cx="439.9" cy="380.5" r="0.8" fill="#111"/>
<circle cx="437.2" cy="368.5" r="0.8" fill="#111"/>
<circle cx="437.1" cy="376.3" r="0.8" fill="#111"/>
<circle cx="437.4" cy="360.4" r="0.8" fill="#111"/>
<circle cx="437.1" cy="363.7" r="0.8" fill="#111"/>
<line x1="439.1" y1="396.8" x2="439.1" y2="400.5" stroke="#222" stroke-width="0.8"/>
<text x="446.1" y="407.2" text-anchor="end" transform="rotate(-53 446.1 407.2)" font-size="9.0" fill="#111" stroke="#111" stroke-width="0.2"><tspan>Δ</tspan><tspan font-style="italic">pilJ</tspan></text>
<text x="441.3" y="329.8" transform="rotate(-90 441.3 329.8)" font-size="6.4" fill="#3a3a3a" textLength="22.6" lengthAdjust="spacingAndGlyphs"><tspan font-style="italic">p</tspan>=0.0001</text>
<rect x="449.5" y="365.5" width="9.8" height="31.3" fill="#a2a1a7" stroke="#222" stroke-width="1"/>
<path d="M454.4 365.5V363.0M452.4 363.0H456.4" stroke="#222" stroke-width="0.8" fill="none"/>
<circle cx="451.1" cy="364.5" r="0.8" fill="#111"/>
<circle cx="452.3" cy="384.8" r="0.8" fill="#111"/>
<circle cx="453.1" cy="376.6" r="0.8" fill="#111"/>
<circle cx="454.7" cy="388.6" r="0.8" fill="#111"/>
<circle cx="451.5" cy="379.6" r="0.8" fill="#111"/>
<circle cx="454.8" cy="377.5" r="0.8" fill="#111"/>
<circle cx="455.4" cy="376.5" r="0.8" fill="#111"/>
<circle cx="455.7" cy="374.7" r="0.8" fill="#111"/>
<circle cx="453.8" cy="369.7" r="0.8" fill="#111"/>
<circle cx="457.5" cy="379.9" r="0.8" fill="#111"/>
<circle cx="453.1" cy="362.9" r="0.8" fill="#111"/>
<circle cx="453.9" cy="367.7" r="0.8" fill="#111"/>
<circle cx="456.9" cy="381.0" r="0.8" fill="#111"/>
<circle cx="452.4" cy="371.3" r="0.8" fill="#111"/>
<circle cx="456.0" cy="371.8" r="0.8" fill="#111"/>
<circle cx="457.2" cy="372.5" r="0.8" fill="#111"/>
<circle cx="453.9" cy="375.9" r="0.8" fill="#111"/>
<circle cx="457.0" cy="362.3" r="0.8" fill="#111"/>
<circle cx="454.2" cy="372.4" r="0.8" fill="#111"/>
<circle cx="454.8" cy="373.0" r="0.8" fill="#111"/>
<line x1="454.4" y1="396.8" x2="454.4" y2="400.5" stroke="#222" stroke-width="0.8"/>
<text x="461.4" y="407.2" text-anchor="end" transform="rotate(-53 461.4 407.2)" font-size="9.0" fill="#111" stroke="#111" stroke-width="0.2"><tspan>Δ</tspan><tspan font-style="italic">pilK</tspan></text>
<text x="456.6" y="329.8" transform="rotate(-90 456.6 329.8)" font-size="6.4" fill="#3a3a3a" textLength="22.6" lengthAdjust="spacingAndGlyphs"><tspan font-style="italic">p</tspan>=0.0001</text>
<rect x="464.9" y="349.1" width="9.8" height="47.7" fill="#a2a1a7" stroke="#222" stroke-width="1"/>
<path d="M469.8 349.1V346.6M467.8 346.6H471.8" stroke="#222" stroke-width="0.8" fill="none"/>
<circle cx="470.7" cy="353.3" r="0.8" fill="#111"/>
<circle cx="470.6" cy="349.7" r="0.8" fill="#111"/>
<circle cx="468.9" cy="347.7" r="0.8" fill="#111"/>
<circle cx="468.3" cy="351.0" r="0.8" fill="#111"/>
<circle cx="469.9" cy="353.7" r="0.8" fill="#111"/>
<circle cx="469.7" cy="349.8" r="0.8" fill="#111"/>
<circle cx="471.8" cy="355.0" r="0.8" fill="#111"/>
<circle cx="467.2" cy="350.3" r="0.8" fill="#111"/>
<circle cx="472.8" cy="357.9" r="0.8" fill="#111"/>
<circle cx="466.7" cy="350.0" r="0.8" fill="#111"/>
<circle cx="472.7" cy="341.2" r="0.8" fill="#111"/>
<circle cx="470.6" cy="359.5" r="0.8" fill="#111"/>
<circle cx="472.0" cy="356.7" r="0.8" fill="#111"/>
<circle cx="467.9" cy="360.0" r="0.8" fill="#111"/>
<circle cx="469.1" cy="357.5" r="0.8" fill="#111"/>
<circle cx="467.6" cy="341.8" r="0.8" fill="#111"/>
<circle cx="467.8" cy="345.2" r="0.8" fill="#111"/>
<circle cx="469.0" cy="355.4" r="0.8" fill="#111"/>
<circle cx="467.2" cy="351.3" r="0.8" fill="#111"/>
<circle cx="472.5" cy="360.7" r="0.8" fill="#111"/>
<line x1="469.8" y1="396.8" x2="469.8" y2="400.5" stroke="#222" stroke-width="0.8"/>
<text x="476.8" y="407.2" text-anchor="end" transform="rotate(-53 476.8 407.2)" font-size="9.0" fill="#111" stroke="#111" stroke-width="0.2"><tspan>Δ</tspan><tspan font-style="italic">pilV</tspan></text>
<rect x="480.2" y="350.2" width="9.8" height="46.6" fill="#a2a1a7" stroke="#222" stroke-width="1"/>
<path d="M485.1 350.2V347.7M483.1 347.7H487.1" stroke="#222" stroke-width="0.8" fill="none"/>
<circle cx="482.0" cy="342.9" r="0.8" fill="#111"/>
<circle cx="482.0" cy="348.3" r="0.8" fill="#111"/>
<circle cx="487.4" cy="358.2" r="0.8" fill="#111"/>
<circle cx="485.4" cy="357.7" r="0.8" fill="#111"/>
<circle cx="486.0" cy="350.0" r="0.8" fill="#111"/>
<circle cx="485.7" cy="358.1" r="0.8" fill="#111"/>
<circle cx="484.6" cy="348.7" r="0.8" fill="#111"/>
<circle cx="484.7" cy="346.7" r="0.8" fill="#111"/>
<circle cx="481.9" cy="347.1" r="0.8" fill="#111"/>
<circle cx="483.3" cy="347.5" r="0.8" fill="#111"/>
<circle cx="486.9" cy="353.4" r="0.8" fill="#111"/>
<circle cx="482.9" cy="345.7" r="0.8" fill="#111"/>
<circle cx="484.9" cy="354.7" r="0.8" fill="#111"/>
<circle cx="484.6" cy="354.2" r="0.8" fill="#111"/>
<circle cx="482.3" cy="345.5" r="0.8" fill="#111"/>
<circle cx="482.0" cy="354.8" r="0.8" fill="#111"/>
<circle cx="486.0" cy="360.7" r="0.8" fill="#111"/>
<circle cx="487.0" cy="357.0" r="0.8" fill="#111"/>
<circle cx="485.2" cy="358.9" r="0.8" fill="#111"/>
<circle cx="484.3" cy="354.6" r="0.8" fill="#111"/>
<line x1="485.1" y1="396.8" x2="485.1" y2="400.5" stroke="#222" stroke-width="0.8"/>
<text x="492.1" y="407.2" text-anchor="end" transform="rotate(-53 492.1 407.2)" font-size="9.0" fill="#111" stroke="#111" stroke-width="0.2"><tspan>Δ</tspan><tspan font-style="italic">pilX</tspan></text>
<line x1="322.1" y1="396.8" x2="496" y2="396.8" stroke="#222" stroke-width="1"/>
<line x1="322.1" y1="315.3" x2="322.1" y2="396.8" stroke="#222" stroke-width="1"/>
<line x1="319.1" y1="315.3" x2="322.1" y2="315.3" stroke="#222" stroke-width="0.9"/>
<text x="317.1" y="317.9" text-anchor="end" font-size="7.6" fill="#1a1a1a" stroke="#1a1a1a" stroke-width="0.12">1</text>
<line x1="319.1" y1="335.7" x2="322.1" y2="335.7" stroke="#222" stroke-width="0.9"/>
<text x="317.1" y="338.3" text-anchor="end" font-size="7.6" fill="#1a1a1a" stroke="#1a1a1a" stroke-width="0.12">0.1</text>
<line x1="319.1" y1="356.1" x2="322.1" y2="356.1" stroke="#222" stroke-width="0.9"/>
<text x="317.1" y="358.7" text-anchor="end" font-size="7.6" fill="#1a1a1a" stroke="#1a1a1a" stroke-width="0.12">0.01</text>
<line x1="319.1" y1="376.4" x2="322.1" y2="376.4" stroke="#222" stroke-width="0.9"/>
<text x="317.1" y="379.0" text-anchor="end" font-size="7.6" fill="#1a1a1a" stroke="#1a1a1a" stroke-width="0.12">0.001</text>
<line x1="319.1" y1="396.8" x2="322.1" y2="396.8" stroke="#222" stroke-width="0.9"/>
<text x="317.1" y="399.4" text-anchor="end" font-size="7.6" fill="#1a1a1a" stroke="#1a1a1a" stroke-width="0.12">0.0001</text>
<line x1="66.4" y1="448.3" x2="277" y2="448.3" stroke="#222" stroke-width="1"/>
<line x1="318.4" y1="448.3" x2="494.7" y2="448.3" stroke="#222" stroke-width="1"/>
<text x="163.4" y="455.6" font-size="7.2" font-style="italic" fill="#222">pilE<tspan font-size="5.2" dy="1.3">sa</tspan></text>
<text x="398.5" y="455.6" font-size="7.2" font-style="italic" fill="#222">pilE<tspan font-size="5.2" dy="1.3">sa</tspan></text>
<path d="M0.5 7.1V150.4H504.5V7.1" fill="none" stroke="#1a1a1a" stroke-width="1.2"/>
<line x1="-0.09999999999999998" y1="7.1" x2="505.1" y2="7.1" stroke="#454545" stroke-width="1.4"/>
<path d="M0.5 153.9V299.4H505.5V153.9" fill="none" stroke="#1a1a1a" stroke-width="1.2"/>
<line x1="-0.09999999999999998" y1="153.9" x2="506.1" y2="153.9" stroke="#454545" stroke-width="1.4"/>
<path d="M0.5 303.7V463.1H505.5V303.7" fill="none" stroke="#1a1a1a" stroke-width="1.2"/>
<line x1="-0.09999999999999998" y1="303.7" x2="506.1" y2="303.7" stroke="#454545" stroke-width="1.4"/>
<text x="3.3" y="18.3" font-size="11.5" font-weight="bold" fill="#111">a</text>
<text x="4.4" y="167.5" font-size="11.5" font-weight="bold" fill="#111">b</text>
<text x="2.9" y="315.3" font-size="11.5" font-weight="bold" fill="#111">c</text>
<text x="515.6" y="18.2" font-size="11.5" font-weight="bold" fill="#111">d</text>
<text x="517.4" y="258.8" font-size="11.5" font-weight="bold" fill="#111">e</text>
<text x="15.0" y="84" text-anchor="middle" transform="rotate(-90 15.0 84)" font-size="9.2" font-weight="bold" fill="#111" textLength="71" lengthAdjust="spacingAndGlyphs">Transduction rate</text>
<text x="26.0" y="81.5" text-anchor="middle" transform="rotate(-90 26.0 81.5)" font-size="9.2" font-weight="bold" fill="#111" textLength="46" lengthAdjust="spacingAndGlyphs">(arb. units)</text>
<text x="12.0" y="236" text-anchor="middle" transform="rotate(-90 12.0 236)" font-size="9.2" font-weight="bold" fill="#111" textLength="105.5" lengthAdjust="spacingAndGlyphs">Transformation&#160;&#160;frequency</text>
<text x="26.0" y="234.7" text-anchor="middle" transform="rotate(-90 26.0 234.7)" font-size="9.2" font-weight="bold" fill="#111" textLength="66.4" lengthAdjust="spacingAndGlyphs">(% of ZΔ<tspan font-style="italic">MDA</tspan>)</text>
<text x="13.2" y="374.2" text-anchor="middle" transform="rotate(-90 13.2 374.2)" font-size="9.2" font-weight="bold" fill="#111" textLength="50" lengthAdjust="spacingAndGlyphs">Pili quantity</text>
<text x="26.8" y="373.6" text-anchor="middle" transform="rotate(-90 26.8 373.6)" font-size="9.2" font-weight="bold" fill="#111" textLength="47" lengthAdjust="spacingAndGlyphs">(arb. units)</text>
<rect x="546.8" y="112.2" width="100" height="12.3" fill="#bcbcbc"/>
<rect x="546.8" y="132.2" width="98" height="4.9" fill="#bcbcbc"/>
<rect x="546.8" y="159" width="100" height="12.8" fill="#bcbcbc"/>
<text x="529.9" y="121" font-size="7" font-weight="bold" fill="#111">OM</text>
<text x="537.4" y="137.7" font-size="7" font-weight="bold" fill="#111">P</text>
<text x="532.8" y="167" font-size="7" font-weight="bold" fill="#111">IM</text>
<rect x="577.2" y="123.9" width="17.9" height="12.9" rx="4.5" fill="white" stroke="#222" stroke-width="0.8"/>
<text x="586.1" y="132.8" text-anchor="middle" font-size="6.8" fill="#55a03c">TsaP</text>
<rect x="571.6" y="159.4" width="24.8" height="12.6" rx="5" fill="white" stroke="#222" stroke-width="0.8"/>
<text x="583.6" y="168.4" text-anchor="middle" font-size="7.0" fill="#55a03c">PilD</text>
<text x="557.1" y="146.2" font-size="6.5" fill="#222">Prepilin</text>
<line x1="558.3" y1="156" x2="558.3" y2="176.1" stroke="#222" stroke-width="0.8"/>
<circle cx="556.6" cy="155.8" r="2.1" fill="white" stroke="#222" stroke-width="0.8"/>
<line x1="562.8" y1="149.2" x2="561.0" y2="151.5" stroke="#111" stroke-width="0.6"/>
<path d="M559.6 153.2L560.1 150.8L561.8 152.2Z" fill="#111"/>
<ellipse cx="598.8" cy="180.6" rx="3.6" ry="6.0" fill="white" stroke="#1a1a1a" stroke-width="0.85"/>
<ellipse cx="606.0" cy="180.6" rx="3.8" ry="6.3" fill="white" stroke="#1a1a1a" stroke-width="0.85"/>
<ellipse cx="614.0" cy="180.6" rx="4.3" ry="6.6" fill="white" stroke="#1a1a1a" stroke-width="0.85"/>
<ellipse cx="622.6" cy="180.6" rx="4.1" ry="6.4" fill="white" stroke="#1a1a1a" stroke-width="0.85"/>
<ellipse cx="630.6" cy="180.6" rx="3.9" ry="6.2" fill="white" stroke="#1a1a1a" stroke-width="0.85"/>
<ellipse cx="637.4" cy="180.6" rx="3.0" ry="5.8" fill="white" stroke="#1a1a1a" stroke-width="0.85"/>
<ellipse cx="612.6" cy="188.2" rx="2.6" ry="3.1" fill="white" stroke="#1a1a1a" stroke-width="0.85"/>
<ellipse cx="618.2" cy="188.2" rx="2.6" ry="3.1" fill="white" stroke="#1a1a1a" stroke-width="0.85"/>
<ellipse cx="623.4" cy="188.2" rx="2.6" ry="3.1" fill="white" stroke="#1a1a1a" stroke-width="0.85"/>
<path d="M603.5 173.5 C596.7 162 594.6 155 594.6 150.5 C594.6 146.8 600.4 146.8 600.4 150.5 C600.4 155 598.3 162 603.5 173.5Z" fill="white" stroke="#222" stroke-width="0.65"/>
<path d="M606.5 173.5 C602.2 162 600.1 155 600.1 150.5 C600.1 146.8 605.9 146.8 605.9 150.5 C605.9 155 603.8 162 606.5 173.5Z" fill="white" stroke="#222" stroke-width="0.65"/>
<path d="M610 173.5 C607.7 162 605.6 155 605.6 150.5 C605.6 146.8 611.4 146.8 611.4 150.5 C611.4 155 609.3 162 610 173.5Z" fill="white" stroke="#222" stroke-width="0.65"/>
<path d="M613.8 173.5 C613.2 162 611.1 155 611.1 150.5 C611.1 146.8 616.9 146.8 616.9 150.5 C616.9 155 614.8 162 613.8 173.5Z" fill="white" stroke="#222" stroke-width="0.65"/>
<path d="M617.5 173.5 C618.7 162 616.6 155 616.6 150.5 C616.6 146.8 622.4 146.8 622.4 150.5 C622.4 155 620.3 162 617.5 173.5Z" fill="white" stroke="#222" stroke-width="0.65"/>
<path d="M621.5 173.5 C624.2 162 622.1 155 622.1 150.5 C622.1 146.8 627.9 146.8 627.9 150.5 C627.9 155 625.8 162 621.5 173.5Z" fill="white" stroke="#222" stroke-width="0.65"/>
<path d="M625.5 173.5 C629.7 162 627.6 155 627.6 150.5 C627.6 146.8 633.4 146.8 633.4 150.5 C633.4 155 631.3 162 625.5 173.5Z" fill="white" stroke="#222" stroke-width="0.65"/>
<path d="M629.5 173.5 C635.2 162 633.1 155 633.1 150.5 C633.1 146.8 638.9 146.8 638.9 150.5 C638.9 155 636.8 162 629.5 173.5Z" fill="white" stroke="#222" stroke-width="0.65"/>
<path d="M595 150.5 C593.5 147.5 597 146 599.5 147.5 C600.5 149 600 151 598.5 152.5 C597.5 153.5 597 155 597.5 157" fill="white" stroke="#222" stroke-width="0.7"/>
<path d="M640 150.5 C641.5 147.5 638 146 635.5 147.5 C634.5 149 635 151 636.5 152.5 C637.5 153.5 638 155 637.5 157" fill="white" stroke="#222" stroke-width="0.7"/>
<path d="M594.5 135.6 L604.4 135.6 C604.9 140 601.6500000000001 143 601.0500000000001 148.5 L597.85 148.5 C597.25 143 594.0 140 594.5 135.6Z" fill="white" stroke="#1a1a1a" stroke-width="0.85"/>
<path d="M604.4 135.6 L614 135.6 C614.5 140 611.4000000000001 143 610.8000000000001 148.5 L607.6 148.5 C607.0 143 603.9 140 604.4 135.6Z" fill="white" stroke="#1a1a1a" stroke-width="0.85"/>
<path d="M614 135.6 L622.9 135.6 C623.4 140 620.6500000000001 143 620.0500000000001 148.5 L616.85 148.5 C616.25 143 613.5 140 614 135.6Z" fill="white" stroke="#1a1a1a" stroke-width="0.85"/>
<path d="M622.9 135.6 L631.9 135.6 C632.4 140 629.6 143 629.0 148.5 L625.8 148.5 C625.1999999999999 143 622.4 140 622.9 135.6Z" fill="white" stroke="#1a1a1a" stroke-width="0.85"/>
<path d="M631.9 135.6 L641 135.6 C641.5 140 638.6500000000001 143 638.0500000000001 148.5 L634.85 148.5 C634.25 143 631.4 140 631.9 135.6Z" fill="white" stroke="#1a1a1a" stroke-width="0.85"/>
<path d="M595.2 135.6 L595.2 129.5 C595.2 124.8 604.4 124.8 604.4 129.5 L604.4 135.6Z" fill="white" stroke="#1a1a1a" stroke-width="0.85"/>
<path d="M604.4 135.6 L604.4 129.5 C604.4 124.8 614 124.8 614 129.5 L614 135.6Z" fill="white" stroke="#1a1a1a" stroke-width="0.85"/>
<path d="M614 135.6 L614 129.5 C614 124.8 622.9 124.8 622.9 129.5 L622.9 135.6Z" fill="white" stroke="#1a1a1a" stroke-width="0.85"/>
<path d="M622.9 135.6 L622.9 129.5 C622.9 124.8 631.9 124.8 631.9 129.5 L631.9 135.6Z" fill="white" stroke="#1a1a1a" stroke-width="0.85"/>
<path d="M631.9 135.6 L631.9 129.5 C631.9 124.8 640.8 124.8 640.8 129.5 L640.8 135.6Z" fill="white" stroke="#1a1a1a" stroke-width="0.85"/>
<path d="M599.7 125.5 L599.7 122 C599.7 120.5 594.3 118.5 594.3 114.8 C594.3 111.6 597 110.3 600.2 110.3 C603.6 110.3 605.5 111.6 605.5 114 L605.5 125.5Z" fill="white" stroke="#1a1a1a" stroke-width="0.85"/>
<path d="M633.6 125.5 L633.6 122 C633.6 120.5 638.8 118.5 638.8 114.8 C638.8 111.6 636 110.3 632.8 110.3 C629.4 110.3 627.5 111.6 627.5 114 L627.5 125.5Z" fill="white" stroke="#1a1a1a" stroke-width="0.85"/>
<path d="M605.5 125.5 L605.5 114 C605.5 109.8 613.4 109.8 613.4 114 L613.4 125.5Z" fill="white" stroke="#1a1a1a" stroke-width="0.85"/>
<path d="M613.4 125.5 L613.4 114 C613.4 109.8 619.4 109.8 619.4 114 L619.4 125.5Z" fill="white" stroke="#1a1a1a" stroke-width="0.85"/>
<path d="M619.4 125.5 L619.4 114 C619.4 109.8 627.5 109.8 627.5 114 L627.5 125.5Z" fill="white" stroke="#1a1a1a" stroke-width="0.85"/>
<line x1="587.4" y1="184.2" x2="618.4" y2="167.7" stroke="#111" stroke-width="1.2"/>
<circle cx="620.0" cy="65.70" r="2.4" fill="#a8a8a8" stroke="#222" stroke-width="0.7"/>
<circle cx="620.0" cy="70.65" r="2.4" fill="white" stroke="#222" stroke-width="0.7"/>
<circle cx="620.0" cy="75.60" r="2.4" fill="white" stroke="#222" stroke-width="0.7"/>
<circle cx="620.0" cy="80.55" r="2.4" fill="#6e6e6e" stroke="#222" stroke-width="0.7"/>
<circle cx="620.0" cy="85.50" r="2.4" fill="white" stroke="#222" stroke-width="0.7"/>
<circle cx="620.0" cy="90.45" r="2.4" fill="white" stroke="#222" stroke-width="0.7"/>
<circle cx="620.0" cy="95.40" r="2.4" fill="white" stroke="#222" stroke-width="0.7"/>
<circle cx="620.0" cy="100.35" r="2.4" fill="white" stroke="#222" stroke-width="0.7"/>
<circle cx="620.0" cy="105.30" r="2.4" fill="white" stroke="#222" stroke-width="0.7"/>
<circle cx="615.8" cy="63.00" r="2.4" fill="#9c9c9c" stroke="#222" stroke-width="0.7"/>
<circle cx="615.8" cy="67.90" r="2.4" fill="white" stroke="#222" stroke-width="0.7"/>
<circle cx="615.8" cy="72.80" r="2.4" fill="white" stroke="#222" stroke-width="0.7"/>
<circle cx="615.8" cy="77.70" r="2.4" fill="white" stroke="#222" stroke-width="0.7"/>
<circle cx="615.8" cy="82.60" r="2.4" fill="white" stroke="#222" stroke-width="0.7"/>
<circle cx="615.8" cy="87.50" r="2.4" fill="#6e6e6e" stroke="#222" stroke-width="0.7"/>
<circle cx="615.8" cy="92.40" r="2.4" fill="white" stroke="#222" stroke-width="0.7"/>
<circle cx="615.8" cy="97.30" r="2.4" fill="white" stroke="#222" stroke-width="0.7"/>
<circle cx="615.8" cy="102.20" r="2.4" fill="white" stroke="#222" stroke-width="0.7"/>
<circle cx="615.8" cy="107.10" r="2.4" fill="white" stroke="#222" stroke-width="0.7"/>
<circle cx="611.5" cy="60.60" r="2.4" fill="#9c9c9c" stroke="#222" stroke-width="0.7"/>
<circle cx="611.5" cy="65.45" r="2.4" fill="#a8a8a8" stroke="#222" stroke-width="0.7"/>
<circle cx="611.5" cy="70.30" r="2.4" fill="#6e6e6e" stroke="#222" stroke-width="0.7"/>
<circle cx="611.5" cy="75.15" r="2.4" fill="white" stroke="#222" stroke-width="0.7"/>
<circle cx="611.5" cy="80.00" r="2.4" fill="white" stroke="#222" stroke-width="0.7"/>
<circle cx="611.5" cy="84.85" r="2.4" fill="white" stroke="#222" stroke-width="0.7"/>
<circle cx="611.5" cy="89.70" r="2.4" fill="white" stroke="#222" stroke-width="0.7"/>
<circle cx="611.5" cy="94.55" r="2.4" fill="white" stroke="#222" stroke-width="0.7"/>
<circle cx="611.5" cy="99.40" r="2.4" fill="#6e6e6e" stroke="#222" stroke-width="0.7"/>
<circle cx="611.5" cy="104.25" r="2.4" fill="white" stroke="#222" stroke-width="0.7"/>
<circle cx="611.5" cy="109.10" r="2.4" fill="white" stroke="#222" stroke-width="0.7"/>
<ellipse cx="616.3" cy="53.1" rx="5.3" ry="7.1" fill="white" stroke="#222" stroke-width="0.7"/>
<text x="566.7" y="51" font-size="6.6" fill="#ec7440" text-anchor="start">PilC1/C2</text>
<text x="637" y="67.4" font-size="6.6" fill="#ec7440" textLength="33.8" lengthAdjust="spacing">PilH, I, J, K</text>
<text x="561.7" y="79.8" font-size="6.6" fill="#ec7440" text-anchor="start">PilX, PilV</text>
<text x="637" y="88.1" font-size="6.6" fill="#ec7440" text-anchor="start">PilE</text>
<line x1="598.3" y1="51.0" x2="606.5" y2="52.8" stroke="#111" stroke-width="1.0"/>
<path d="M610.0 53.6L606.1 54.6L606.9 51.1Z" fill="#111"/>
<line x1="634.6" y1="65.8" x2="628.1" y2="65.8" stroke="#111" stroke-width="1.0"/>
<path d="M624.5 65.8L628.1 64.0L628.1 67.6Z" fill="#111"/>
<line x1="596.8" y1="76.8" x2="604.3" y2="73.5" stroke="#111" stroke-width="1.0"/>
<path d="M607.6 72.0L605.0 75.1L603.6 71.8Z" fill="#111"/>
<line x1="634.6" y1="86.7" x2="628.1" y2="86.7" stroke="#111" stroke-width="1.0"/>
<path d="M624.5 86.7L628.1 84.9L628.1 88.5Z" fill="#111"/>
<text x="643.1" y="108.8" font-size="6.6" fill="#55a03c" text-anchor="start">PilQ</text>
<text x="659" y="127.5" font-size="6.6" fill="#55a03c" text-anchor="start">PilW</text>
<text x="659" y="141" font-size="6.6" fill="#55a03c" text-anchor="start">PilP</text>
<text x="659" y="151.4" font-size="6.6" fill="#55a03c" text-anchor="start">PilO</text>
<text x="659" y="159.6" font-size="6.6" fill="#55a03c" text-anchor="start">PilN</text>
<text x="658.5" y="181" font-size="6.6" fill="#55a03c" text-anchor="start">PilM</text>
<line x1="640.6" y1="106.6" x2="638.3" y2="107.9" stroke="#111" stroke-width="1.0"/>
<path d="M635.2 109.7L637.4 106.3L639.2 109.5Z" fill="#111"/>
<line x1="650.7" y1="126.5" x2="645.3" y2="127.5" stroke="#111" stroke-width="1.0"/>
<path d="M641.8 128.2L645.0 125.8L645.7 129.3Z" fill="#111"/>
<line x1="650.7" y1="139.5" x2="645.8" y2="139.5" stroke="#111" stroke-width="1.0"/>
<path d="M642.2 139.5L645.8 137.7L645.8 141.3Z" fill="#111"/>
<line x1="650.7" y1="149.4" x2="645.4" y2="149.4" stroke="#111" stroke-width="1.0"/>
<path d="M641.8 149.4L645.4 147.6L645.4 151.2Z" fill="#111"/>
<line x1="650.7" y1="156.5" x2="645.4" y2="156.5" stroke="#111" stroke-width="1.0"/>
<path d="M641.8 156.5L645.4 154.7L645.4 158.3Z" fill="#111"/>
<line x1="652.2" y1="175.0" x2="643.2" y2="175.0" stroke="#111" stroke-width="1.0"/>
<path d="M639.6 175.0L643.2 173.2L643.2 176.8Z" fill="#111"/>
<text x="571.9" y="189" font-size="6.6" fill="#55a03c" text-anchor="start">PilG</text>
<text x="599.2" y="204.5" font-size="6.6" fill="#55a03c" text-anchor="start">PilF</text>
<line x1="612.9" y1="199.7" x2="616.7" y2="194.2" stroke="#111" stroke-width="1.0"/>
<path d="M618.8 191.3L618.2 195.3L615.3 193.2Z" fill="#111"/>
<ellipse cx="645.6" cy="190.4" rx="2.4" ry="5.2" fill="white" stroke="#222" stroke-width="0.65"/>
<ellipse cx="651.4" cy="190.4" rx="2.4" ry="5.2" fill="white" stroke="#222" stroke-width="0.65"/>
<ellipse cx="643.7" cy="192.0" rx="2.4" ry="5.7" fill="white" stroke="#222" stroke-width="0.65"/>
<ellipse cx="648.5" cy="192.0" rx="2.4" ry="5.7" fill="white" stroke="#222" stroke-width="0.65"/>
<ellipse cx="653.3" cy="192.0" rx="2.4" ry="5.7" fill="white" stroke="#222" stroke-width="0.65"/>
<text x="647.4" y="205.6" font-size="6.6" fill="#55a03c" text-anchor="middle">PilT</text>
<ellipse cx="666.6" cy="204.8" rx="2.4" ry="5.3" fill="white" stroke="#222" stroke-width="0.65"/>
<ellipse cx="672.4" cy="204.8" rx="2.4" ry="5.3" fill="white" stroke="#222" stroke-width="0.65"/>
<ellipse cx="664.7" cy="206.4" rx="2.4" ry="5.8" fill="white" stroke="#222" stroke-width="0.65"/>
<ellipse cx="669.5" cy="206.4" rx="2.4" ry="5.8" fill="white" stroke="#222" stroke-width="0.65"/>
<ellipse cx="674.3" cy="206.4" rx="2.4" ry="5.8" fill="white" stroke="#222" stroke-width="0.65"/>
<text x="668" y="220.8" font-size="6.6" fill="#55a03c" text-anchor="middle">PilU</text>
<ellipse cx="629.5" cy="212.2" rx="2.4" ry="5.3" fill="white" stroke="#222" stroke-width="0.65"/>
<ellipse cx="635.3" cy="212.2" rx="2.4" ry="5.3" fill="white" stroke="#222" stroke-width="0.65"/>
<ellipse cx="627.6" cy="213.8" rx="2.4" ry="5.8" fill="white" stroke="#222" stroke-width="0.65"/>
<ellipse cx="632.4" cy="213.8" rx="2.4" ry="5.8" fill="white" stroke="#222" stroke-width="0.65"/>
<ellipse cx="637.2" cy="213.8" rx="2.4" ry="5.8" fill="white" stroke="#222" stroke-width="0.65"/>
<text x="632.2" y="227.2" font-size="6.6" fill="#55a03c" text-anchor="middle">PilT2</text>
<circle cx="581" cy="214.6" r="8.6" fill="white" stroke="#222" stroke-width="0.8"/>
<text x="581" y="217" font-size="6.6" fill="#55a03c" text-anchor="middle">PilZ</text>
<line x1="578.6" y1="287.0" x2="578.6" y2="414.1" stroke="#222" stroke-width="1.3"/>
<line x1="578.6" y1="414.1" x2="685" y2="414.1" stroke="#222" stroke-width="1.1"/>
<line x1="574.3000000000001" y1="287.0" x2="578.6" y2="287.0" stroke="#222" stroke-width="1.1"/>
<text x="572.0" y="290.0" text-anchor="end" font-size="8.1" fill="#1a1a1a">10<tspan font-size="5" dy="-3.2">-2</tspan></text>
<line x1="574.3000000000001" y1="318.8" x2="578.6" y2="318.8" stroke="#222" stroke-width="1.1"/>
<text x="572.0" y="321.8" text-anchor="end" font-size="8.1" fill="#1a1a1a">10<tspan font-size="5" dy="-3.2">-3</tspan></text>
<line x1="574.3000000000001" y1="350.5" x2="578.6" y2="350.5" stroke="#222" stroke-width="1.1"/>
<text x="572.0" y="353.5" text-anchor="end" font-size="8.1" fill="#1a1a1a">10<tspan font-size="5" dy="-3.2">-4</tspan></text>
<line x1="574.3000000000001" y1="382.3" x2="578.6" y2="382.3" stroke="#222" stroke-width="1.1"/>
<text x="572.0" y="385.3" text-anchor="end" font-size="8.1" fill="#1a1a1a">10<tspan font-size="5" dy="-3.2">-5</tspan></text>
<line x1="574.3000000000001" y1="414.1" x2="578.6" y2="414.1" stroke="#222" stroke-width="1.1"/>
<text x="572.0" y="417.1" text-anchor="end" font-size="8.1" fill="#1a1a1a">10<tspan font-size="5" dy="-3.2">-6</tspan></text>
<path d="M600.4 320.7V315.4M595.4 315.4H605.4" stroke="#222" stroke-width="1" fill="none"/>
<rect x="590.2" y="320.7" width="20.4" height="93.4" fill="white" stroke="#222" stroke-width="1.2"/>
<circle cx="599.8" cy="306.3" r="1.3" fill="#111"/>
<circle cx="599.8" cy="311.3" r="1.3" fill="#111"/>
<circle cx="595.6" cy="329.6" r="1.3" fill="#111"/>
<circle cx="599.8" cy="330.6" r="1.3" fill="#111"/>
<circle cx="599.8" cy="346" r="1.3" fill="#111"/>
<circle cx="599.8" cy="356.4" r="1.3" fill="#111"/>
<line x1="600.4" y1="414.1" x2="600.4" y2="418.6" stroke="#222" stroke-width="1"/>
<path d="M632.0 375.3V369.4M627.0 369.4H637.0" stroke="#222" stroke-width="1" fill="none"/>
<rect x="621.9" y="375.3" width="20.1" height="38.8" fill="#fde0e1" stroke="#222" stroke-width="1.2"/>
<circle cx="631.9" cy="361.8" r="1.3" fill="#111"/>
<circle cx="631.9" cy="364.7" r="1.3" fill="#111"/>
<circle cx="631.9" cy="384" r="1.3" fill="#111"/>
<circle cx="631.9" cy="388.6" r="1.3" fill="#111"/>
<circle cx="631.9" cy="400.6" r="1.3" fill="#111"/>
<circle cx="631.9" cy="405.5" r="1.3" fill="#111"/>
<line x1="632.0" y1="414.1" x2="632.0" y2="418.6" stroke="#222" stroke-width="1"/>
<path d="M663.5 342.4V335.5M658.5 335.5H668.5" stroke="#222" stroke-width="1" fill="none"/>
<rect x="653.5" y="342.4" width="20.0" height="71.7" fill="#c8dcf5" stroke="#222" stroke-width="1.2"/>
<circle cx="663.4" cy="325" r="1.3" fill="#111"/>
<circle cx="663.4" cy="333" r="1.3" fill="#111"/>
<circle cx="663.4" cy="359.6" r="1.3" fill="#111"/>
<circle cx="663.4" cy="365.8" r="1.3" fill="#111"/>
<circle cx="663.4" cy="370.4" r="1.3" fill="#111"/>
<circle cx="663.4" cy="374.9" r="1.3" fill="#111"/>
<line x1="663.5" y1="414.1" x2="663.5" y2="418.6" stroke="#222" stroke-width="1"/>
<line x1="599" y1="283.5" x2="664.2" y2="283.5" stroke="#222" stroke-width="1"/>
<text x="614.9" y="279.6" font-size="7.2" fill="#222" textLength="32.5" lengthAdjust="spacingAndGlyphs"><tspan font-style="italic">p</tspan>=0.1021</text>
<line x1="599" y1="298.5" x2="631.9" y2="298.5" stroke="#222" stroke-width="1"/>
<text x="598.7" y="294.7" font-size="7.2" fill="#222" textLength="32.5" lengthAdjust="spacingAndGlyphs"><tspan font-style="italic">p</tspan>=0.0006</text>
<line x1="631.9" y1="315.5" x2="662" y2="315.5" stroke="#222" stroke-width="1"/>
<text x="631" y="310.8" font-size="7.2" fill="#222" textLength="32.5" lengthAdjust="spacingAndGlyphs"><tspan font-style="italic">p</tspan>=0.0505</text>
<text x="607.4" y="423.8" text-anchor="end" transform="rotate(-53 607.4 423.8)" font-size="9" fill="#111" stroke="#111" stroke-width="0.2">ZΔMDA</text>
<text x="638.9" y="423.8" text-anchor="end" transform="rotate(-53 638.9 423.8)" font-size="9" fill="#111" stroke="#111" stroke-width="0.2"><tspan font-style="italic">pilE</tspan><tspan font-size="5.5" dy="1.5">SA</tspan></text>
<text x="670.5" y="423.8" text-anchor="end" transform="rotate(-53 670.5 423.8)" font-size="9" fill="#111" stroke="#111" stroke-width="0.2"><tspan font-style="italic">pilE</tspan><tspan font-size="5.5" dy="1.5">SB</tspan></text>
<text x="540.8" y="355.3" text-anchor="middle" transform="rotate(-90 540.8 355.3)" font-size="9.2" font-weight="bold" fill="#111" textLength="71.4" lengthAdjust="spacingAndGlyphs">Transduction rate</text>
<text x="552.6" y="356.1" text-anchor="middle" transform="rotate(-90 552.6 356.1)" font-size="9.2" font-weight="bold" fill="#111" textLength="48.5" lengthAdjust="spacingAndGlyphs">(arb. units)</text>
</svg></body></html>
